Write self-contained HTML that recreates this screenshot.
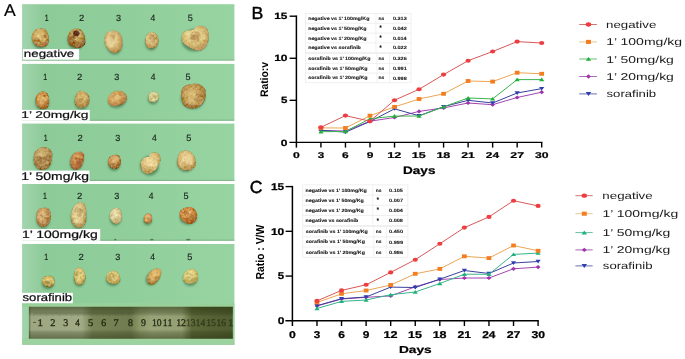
<!DOCTYPE html><html><head><meta charset="utf-8"><style>html,body{margin:0;padding:0;background:#fff;overflow:hidden;}svg{display:block} text{text-rendering:geometricPrecision}</style></head><body>
<svg width="685" height="359" viewBox="0 0 685 359">
<defs>
<filter id="bl" x="-30%" y="-30%" width="160%" height="160%"><feGaussianBlur stdDeviation="0.7"/></filter>
<filter id="bl2" x="-30%" y="-30%" width="160%" height="160%"><feGaussianBlur stdDeviation="1.2"/></filter>
<filter id="tex" x="-20%" y="-20%" width="140%" height="140%">
 <feTurbulence type="fractalNoise" baseFrequency="0.45" numOctaves="2" seed="7" result="n"/>
 <feColorMatrix in="n" type="matrix" values="0.33 0.33 0.33 0 0  0.33 0.33 0.33 0 0  0.33 0.33 0.33 0 0  0 0 0 0 1" result="g"/>
 <feComposite in="SourceGraphic" in2="g" operator="arithmetic" k1="0" k2="1" k3="0.55" k4="-0.27" result="c"/>
 <feComposite in="c" in2="SourceAlpha" operator="in" result="d"/>
 <feGaussianBlur in="d" stdDeviation="0.45"/>
</filter>
<filter id="gblur" x="0" y="0" width="100%" height="100%" filterUnits="userSpaceOnUse"><feGaussianBlur stdDeviation="0.35"/></filter>
<linearGradient id="ledge" x1="0" y1="0" x2="1" y2="0"><stop offset="0" stop-color="#fff" stop-opacity="0.2"/><stop offset="1" stop-color="#fff" stop-opacity="0"/></linearGradient>
<filter id="bl3" x="-10%" y="-10%" width="120%" height="120%"><feGaussianBlur stdDeviation="0.45"/></filter>
<linearGradient id="gstrip" x1="0" y1="0" x2="1" y2="0">
 <stop offset="0" stop-color="#8cca98"/><stop offset="0.5" stop-color="#90ce9c"/><stop offset="1" stop-color="#97d4a2"/>
</linearGradient>
<radialGradient id="tum" cx="0.42" cy="0.4" r="0.62">
 <stop offset="0" stop-color="#e6cf8c"/><stop offset="0.55" stop-color="#cfa760"/><stop offset="1" stop-color="#9a7038"/>
</radialGradient>
<radialGradient id="tumR" cx="0.45" cy="0.42" r="0.62">
 <stop offset="0" stop-color="#d9a868"/><stop offset="0.5" stop-color="#c08248"/><stop offset="1" stop-color="#8a5a30"/>
</radialGradient>
<radialGradient id="tumP" cx="0.42" cy="0.4" r="0.62">
 <stop offset="0" stop-color="#eee0a8"/><stop offset="0.6" stop-color="#d8c080"/><stop offset="1" stop-color="#a88a48"/>
</radialGradient>
<radialGradient id="tumO" cx="0.45" cy="0.4" r="0.62">
 <stop offset="0" stop-color="#e8b060"/><stop offset="0.55" stop-color="#d08c40"/><stop offset="1" stop-color="#986020"/>
</radialGradient>
<linearGradient id="ruler" x1="0" y1="0" x2="1" y2="0">
 <stop offset="0" stop-color="#6a744c"/><stop offset="0.012" stop-color="#9ca680"/><stop offset="0.26" stop-color="#a0aa84"/>
 <stop offset="0.31" stop-color="#788456"/><stop offset="0.5" stop-color="#707c50"/><stop offset="0.545" stop-color="#8c9868"/>
 <stop offset="0.6" stop-color="#98a478"/><stop offset="0.75" stop-color="#949f72"/><stop offset="0.8" stop-color="#5c6838"/><stop offset="1" stop-color="#505c30"/>
</linearGradient>
<linearGradient id="rulerv" x1="0" y1="0" x2="0" y2="1">
 <stop offset="0" stop-color="#1e2a08" stop-opacity="0.5"/><stop offset="0.18" stop-color="#1e2a08" stop-opacity="0.3"/><stop offset="0.3" stop-color="#000" stop-opacity="0"/>
 <stop offset="0.72" stop-color="#000" stop-opacity="0"/><stop offset="0.82" stop-color="#1e2a08" stop-opacity="0.25"/><stop offset="1" stop-color="#1e2a08" stop-opacity="0.45"/>
</linearGradient>
</defs>
<rect width="685" height="359" fill="#fff"/>
<g filter="url(#gblur)">
<text transform="translate(3.97,16.00) scale(1.038,1)" font-family='"Liberation Sans", sans-serif' font-size="17.01" font-weight="normal" fill="#000" stroke="#000" stroke-width="0.19" stroke-linejoin="round" >A</text>
<rect x="22.1" y="4.2" width="212.3" height="56.4" fill="url(#gstrip)"/>
<rect x="22.1" y="59.4" width="212.3" height="1.2" fill="#7aa87e" opacity="0.6"/>
<rect x="22.1" y="4.2" width="22" height="56.4" fill="url(#ledge)"/>
<rect x="22.1" y="63.9" width="212.3" height="56.9" fill="url(#gstrip)"/>
<rect x="22.1" y="119.6" width="212.3" height="1.2" fill="#7aa87e" opacity="0.6"/>
<rect x="22.1" y="63.9" width="22" height="56.9" fill="url(#ledge)"/>
<rect x="22.1" y="123.6" width="212.3" height="57.4" fill="url(#gstrip)"/>
<rect x="22.1" y="179.8" width="212.3" height="1.2" fill="#7aa87e" opacity="0.6"/>
<rect x="22.1" y="123.6" width="22" height="57.4" fill="url(#ledge)"/>
<rect x="22.1" y="184.0" width="212.3" height="56.8" fill="url(#gstrip)"/>
<rect x="22.1" y="239.6" width="212.3" height="1.2" fill="#7aa87e" opacity="0.6"/>
<rect x="22.1" y="184.0" width="22" height="56.8" fill="url(#ledge)"/>
<rect x="22.1" y="244.0" width="212.3" height="100.6" fill="url(#gstrip)"/>
<rect x="22.1" y="343.4" width="212.3" height="1.2" fill="#7aa87e" opacity="0.6"/>
<rect x="22.1" y="244.0" width="22" height="100.6" fill="url(#ledge)"/>
<rect x="22.1" y="303.2" width="212.3" height="3.8" fill="#98d09a"/>
<rect x="22.1" y="338.7" width="212.3" height="5.9" fill="#9cd29e"/>
<rect x="232.8" y="306.8" width="1.6" height="31.9" fill="#9ad09c"/>
<g filter="url(#bl3)"><rect x="28.9" y="306.8" width="203.9" height="31.9" fill="url(#ruler)"/>
<rect x="28.9" y="306.8" width="203.9" height="31.9" fill="url(#rulerv)"/></g>
<text transform="translate(37.15,325.80) scale(1.170,1)" font-family='"Liberation Serif", serif' font-size="10.20" font-weight="normal" fill="#141a06" stroke="#141a06" stroke-width="0.30" stroke-linejoin="round" opacity="0.85">1</text>
<text transform="translate(50.34,325.80) scale(1.027,1)" font-family='"Liberation Serif", serif' font-size="10.20" font-weight="normal" fill="#141a06" stroke="#141a06" stroke-width="0.34" stroke-linejoin="round" opacity="0.85">2</text>
<text transform="translate(63.21,325.80) scale(0.997,1)" font-family='"Liberation Serif", serif' font-size="10.20" font-weight="normal" fill="#141a06" stroke="#141a06" stroke-width="0.35" stroke-linejoin="round" opacity="0.85">3</text>
<text transform="translate(75.22,325.80) scale(0.886,1)" font-family='"Liberation Serif", serif' font-size="10.20" font-weight="normal" fill="#141a06" stroke="#141a06" stroke-width="0.40" stroke-linejoin="round" opacity="0.85">4</text>
<text transform="translate(87.99,325.80) scale(1.022,1)" font-family='"Liberation Serif", serif' font-size="10.20" font-weight="normal" fill="#141a06" stroke="#141a06" stroke-width="0.34" stroke-linejoin="round" opacity="0.85">5</text>
<text transform="translate(101.28,325.80) scale(0.964,1)" font-family='"Liberation Serif", serif' font-size="10.20" font-weight="normal" fill="#141a06" stroke="#141a06" stroke-width="0.36" stroke-linejoin="round" opacity="0.85">6</text>
<text transform="translate(113.62,325.80) scale(1.016,1)" font-family='"Liberation Serif", serif' font-size="10.20" font-weight="normal" fill="#141a06" stroke="#141a06" stroke-width="0.34" stroke-linejoin="round" opacity="0.85">7</text>
<text transform="translate(127.92,325.80) scale(0.972,1)" font-family='"Liberation Serif", serif' font-size="10.20" font-weight="normal" fill="#141a06" stroke="#141a06" stroke-width="0.36" stroke-linejoin="round" opacity="0.85">8</text>
<text transform="translate(141.08,325.80) scale(0.965,1)" font-family='"Liberation Serif", serif' font-size="10.20" font-weight="normal" fill="#141a06" stroke="#141a06" stroke-width="0.36" stroke-linejoin="round" opacity="0.85">9</text>
<text transform="translate(152.06,325.80) scale(0.942,1)" font-family='"Liberation Serif", serif' font-size="10.20" font-weight="normal" fill="#141a06" stroke="#141a06" stroke-width="0.37" stroke-linejoin="round" opacity="0.85">10</text>
<text transform="translate(162.83,325.80) scale(0.967,1)" font-family='"Liberation Serif", serif' font-size="10.20" font-weight="normal" fill="#141a06" stroke="#141a06" stroke-width="0.36" stroke-linejoin="round" opacity="0.85">11</text>
<text transform="translate(176.14,325.80) scale(0.961,1)" font-family='"Liberation Serif", serif' font-size="10.20" font-weight="normal" fill="#141a06" stroke="#141a06" stroke-width="0.36" stroke-linejoin="round" opacity="0.85">12</text>
<text transform="translate(185.95,325.80) scale(0.943,1)" font-family='"Liberation Serif", serif' font-size="10.20" font-weight="normal" fill="#141a06" stroke="#141a06" stroke-width="0.37" stroke-linejoin="round" opacity="0.55">13</text>
<text transform="translate(195.78,325.80) scale(0.919,1)" font-family='"Liberation Serif", serif' font-size="10.20" font-weight="normal" fill="#141a06" stroke="#141a06" stroke-width="0.38" stroke-linejoin="round" opacity="0.55">14</text>
<text transform="translate(206.15,325.80) scale(0.943,1)" font-family='"Liberation Serif", serif' font-size="10.20" font-weight="normal" fill="#141a06" stroke="#141a06" stroke-width="0.37" stroke-linejoin="round" opacity="0.55">15</text>
<text transform="translate(216.56,325.80) scale(0.933,1)" font-family='"Liberation Serif", serif' font-size="10.20" font-weight="normal" fill="#141a06" stroke="#141a06" stroke-width="0.37" stroke-linejoin="round" opacity="0.55">16</text>
<text transform="translate(227.85,325.80) scale(1.170,1)" font-family='"Liberation Serif", serif' font-size="10.20" font-weight="normal" fill="#141a06" stroke="#141a06" stroke-width="0.30" stroke-linejoin="round" opacity="0.55">1</text>
<path d="M33.2 322.4h2.6" stroke="#1c240a" stroke-width="0.9" opacity="0.7"/>
<path d="M34.00 312.4v4.5 M35.26 312.4v2.0 M36.52 312.4v2.0 M37.78 312.4v2.0 M39.04 312.4v2.0 M40.30 312.4v3.2 M41.56 312.4v2.0 M42.82 312.4v2.0 M44.08 312.4v2.0 M45.34 312.4v2.0 M46.60 312.4v4.5 M47.86 312.4v2.0 M49.12 312.4v2.0 M50.38 312.4v2.0 M51.64 312.4v2.0 M52.90 312.4v3.2 M54.16 312.4v2.0 M55.42 312.4v2.0 M56.68 312.4v2.0 M57.94 312.4v2.0 M59.20 312.4v4.5 M60.46 312.4v2.0 M61.72 312.4v2.0 M62.98 312.4v2.0 M64.24 312.4v2.0 M65.50 312.4v3.2 M66.76 312.4v2.0 M68.02 312.4v2.0 M69.28 312.4v2.0 M70.54 312.4v2.0 M71.80 312.4v4.5 M73.06 312.4v2.0 M74.32 312.4v2.0 M75.58 312.4v2.0 M76.84 312.4v2.0 M78.10 312.4v3.2 M79.36 312.4v2.0 M80.62 312.4v2.0 M81.88 312.4v2.0 M83.14 312.4v2.0 M84.40 312.4v4.5 M85.66 312.4v2.0 M86.92 312.4v2.0 M88.18 312.4v2.0 M89.44 312.4v2.0 M90.70 312.4v3.2 M91.96 312.4v2.0 M93.22 312.4v2.0 M94.48 312.4v2.0 M95.74 312.4v2.0 M97.00 312.4v4.5 M98.26 312.4v2.0 M99.52 312.4v2.0 M100.78 312.4v2.0 M102.04 312.4v2.0 M103.30 312.4v3.2 M104.56 312.4v2.0 M105.82 312.4v2.0 M107.08 312.4v2.0 M108.34 312.4v2.0 M109.60 312.4v4.5 M110.86 312.4v2.0 M112.12 312.4v2.0 M113.38 312.4v2.0 M114.64 312.4v2.0 M115.90 312.4v3.2 M117.16 312.4v2.0 M118.42 312.4v2.0 M119.68 312.4v2.0 M120.94 312.4v2.0 M122.20 312.4v4.5 M123.46 312.4v2.0 M124.72 312.4v2.0 M125.98 312.4v2.0 M127.24 312.4v2.0 M128.50 312.4v3.2 M129.76 312.4v2.0 M131.02 312.4v2.0 M132.28 312.4v2.0 M133.54 312.4v2.0" stroke="#2a3410" stroke-width="0.35" opacity="0.35"/>
<text transform="translate(44.77,20.60) scale(0.773,1)" font-family='"Liberation Sans", sans-serif' font-size="9.00" font-weight="normal" fill="#1a221a" stroke="#1a221a" stroke-width="0.19" stroke-linejoin="round" >1</text>
<text transform="translate(78.88,20.60) scale(1.049,1)" font-family='"Liberation Sans", sans-serif' font-size="9.00" font-weight="normal" fill="#1a221a" stroke="#1a221a" stroke-width="0.14" stroke-linejoin="round" >2</text>
<text transform="translate(115.90,20.60) scale(1.008,1)" font-family='"Liberation Sans", sans-serif' font-size="9.00" font-weight="normal" fill="#1a221a" stroke="#1a221a" stroke-width="0.15" stroke-linejoin="round" >3</text>
<text transform="translate(150.55,20.60) scale(0.948,1)" font-family='"Liberation Sans", sans-serif' font-size="9.00" font-weight="normal" fill="#1a221a" stroke="#1a221a" stroke-width="0.16" stroke-linejoin="round" >4</text>
<text transform="translate(187.69,20.60) scale(1.008,1)" font-family='"Liberation Sans", sans-serif' font-size="9.00" font-weight="normal" fill="#1a221a" stroke="#1a221a" stroke-width="0.15" stroke-linejoin="round" >5</text>
<text transform="translate(43.27,80.40) scale(0.773,1)" font-family='"Liberation Sans", sans-serif' font-size="9.00" font-weight="normal" fill="#1a221a" stroke="#1a221a" stroke-width="0.19" stroke-linejoin="round" >1</text>
<text transform="translate(77.08,80.40) scale(1.049,1)" font-family='"Liberation Sans", sans-serif' font-size="9.00" font-weight="normal" fill="#1a221a" stroke="#1a221a" stroke-width="0.14" stroke-linejoin="round" >2</text>
<text transform="translate(114.30,80.40) scale(1.008,1)" font-family='"Liberation Sans", sans-serif' font-size="9.00" font-weight="normal" fill="#1a221a" stroke="#1a221a" stroke-width="0.15" stroke-linejoin="round" >3</text>
<text transform="translate(150.75,80.40) scale(0.948,1)" font-family='"Liberation Sans", sans-serif' font-size="9.00" font-weight="normal" fill="#1a221a" stroke="#1a221a" stroke-width="0.16" stroke-linejoin="round" >4</text>
<text transform="translate(185.39,80.40) scale(1.008,1)" font-family='"Liberation Sans", sans-serif' font-size="9.00" font-weight="normal" fill="#1a221a" stroke="#1a221a" stroke-width="0.15" stroke-linejoin="round" >5</text>
<text transform="translate(43.87,140.70) scale(0.773,1)" font-family='"Liberation Sans", sans-serif' font-size="9.00" font-weight="normal" fill="#1a221a" stroke="#1a221a" stroke-width="0.19" stroke-linejoin="round" >1</text>
<text transform="translate(77.58,140.70) scale(1.049,1)" font-family='"Liberation Sans", sans-serif' font-size="9.00" font-weight="normal" fill="#1a221a" stroke="#1a221a" stroke-width="0.14" stroke-linejoin="round" >2</text>
<text transform="translate(115.20,140.70) scale(1.008,1)" font-family='"Liberation Sans", sans-serif' font-size="9.00" font-weight="normal" fill="#1a221a" stroke="#1a221a" stroke-width="0.15" stroke-linejoin="round" >3</text>
<text transform="translate(152.05,140.70) scale(0.948,1)" font-family='"Liberation Sans", sans-serif' font-size="9.00" font-weight="normal" fill="#1a221a" stroke="#1a221a" stroke-width="0.16" stroke-linejoin="round" >4</text>
<text transform="translate(186.29,140.70) scale(1.008,1)" font-family='"Liberation Sans", sans-serif' font-size="9.00" font-weight="normal" fill="#1a221a" stroke="#1a221a" stroke-width="0.15" stroke-linejoin="round" >5</text>
<text transform="translate(42.97,198.70) scale(0.773,1)" font-family='"Liberation Sans", sans-serif' font-size="9.00" font-weight="normal" fill="#1a221a" stroke="#1a221a" stroke-width="0.19" stroke-linejoin="round" >1</text>
<text transform="translate(77.08,198.70) scale(1.049,1)" font-family='"Liberation Sans", sans-serif' font-size="9.00" font-weight="normal" fill="#1a221a" stroke="#1a221a" stroke-width="0.14" stroke-linejoin="round" >2</text>
<text transform="translate(114.30,198.70) scale(1.008,1)" font-family='"Liberation Sans", sans-serif' font-size="9.00" font-weight="normal" fill="#1a221a" stroke="#1a221a" stroke-width="0.15" stroke-linejoin="round" >3</text>
<text transform="translate(148.75,198.70) scale(0.948,1)" font-family='"Liberation Sans", sans-serif' font-size="9.00" font-weight="normal" fill="#1a221a" stroke="#1a221a" stroke-width="0.16" stroke-linejoin="round" >4</text>
<text transform="translate(183.49,198.70) scale(1.008,1)" font-family='"Liberation Sans", sans-serif' font-size="9.00" font-weight="normal" fill="#1a221a" stroke="#1a221a" stroke-width="0.15" stroke-linejoin="round" >5</text>
<text transform="translate(44.17,260.30) scale(0.773,1)" font-family='"Liberation Sans", sans-serif' font-size="9.00" font-weight="normal" fill="#1a221a" stroke="#1a221a" stroke-width="0.19" stroke-linejoin="round" >1</text>
<text transform="translate(78.38,260.30) scale(1.049,1)" font-family='"Liberation Sans", sans-serif' font-size="9.00" font-weight="normal" fill="#1a221a" stroke="#1a221a" stroke-width="0.14" stroke-linejoin="round" >2</text>
<text transform="translate(115.20,260.30) scale(1.008,1)" font-family='"Liberation Sans", sans-serif' font-size="9.00" font-weight="normal" fill="#1a221a" stroke="#1a221a" stroke-width="0.15" stroke-linejoin="round" >3</text>
<text transform="translate(150.25,260.30) scale(0.948,1)" font-family='"Liberation Sans", sans-serif' font-size="9.00" font-weight="normal" fill="#1a221a" stroke="#1a221a" stroke-width="0.16" stroke-linejoin="round" >4</text>
<text transform="translate(187.19,260.30) scale(1.008,1)" font-family='"Liberation Sans", sans-serif' font-size="9.00" font-weight="normal" fill="#1a221a" stroke="#1a221a" stroke-width="0.15" stroke-linejoin="round" >5</text>
<radialGradient id="tg1" cx="0.45" cy="0.38" r="0.62"><stop offset="0" stop-color="#e0c880"/><stop offset="0.55" stop-color="#c9a45c"/><stop offset="1" stop-color="#a06a34"/></radialGradient>
<ellipse cx="40.1" cy="40.1" rx="7.9" ry="8.7" fill="#35643c" opacity="0.6" filter="url(#bl2)" transform="rotate(0 40.6 37.7)"/>
<g filter="url(#tex)" transform="rotate(0 40.6 37.7)">
<path d="M48.86 37.70C48.98 39.15 49.17 40.87 48.74 42.25C48.31 43.63 47.33 45.15 46.28 45.98C45.24 46.80 43.71 47.08 42.47 47.20C41.22 47.32 39.98 47.07 38.83 46.70C37.69 46.33 36.59 45.77 35.60 44.99C34.61 44.20 33.57 43.22 32.90 42.01C32.23 40.79 31.63 39.16 31.59 37.70C31.56 36.24 32.09 34.59 32.69 33.28C33.29 31.96 34.18 30.61 35.20 29.83C36.22 29.05 37.60 28.86 38.81 28.59C40.02 28.33 41.26 28.03 42.46 28.25C43.65 28.46 45.06 28.98 45.98 29.87C46.90 30.75 47.50 32.26 47.98 33.57C48.46 34.87 48.73 36.25 48.86 37.70Z" fill="url(#tg1)"/>
<ellipse cx="45.0" cy="35.9" rx="1.9" ry="1.5" fill="#a06a34" opacity="0.46"/>
<ellipse cx="43.2" cy="36.5" rx="2.3" ry="1.8" fill="#a06a34" opacity="0.31"/>
<ellipse cx="41.1" cy="41.2" rx="2.9" ry="2.3" fill="#a06a34" opacity="0.37"/>
<ellipse cx="41.2" cy="41.3" rx="2.5" ry="1.9" fill="#a06a34" opacity="0.55"/>
<ellipse cx="37.0" cy="36.2" rx="2.2" ry="1.7" fill="#e0c880" opacity="0.56"/>
<ellipse cx="42.5" cy="39.8" rx="3.4" ry="2.6" fill="#e0c880" opacity="0.58"/>
<ellipse cx="36.6" cy="40.1" rx="3.3" ry="2.6" fill="#a06a34" opacity="0.48"/>
</g>
<radialGradient id="tg2" cx="0.45" cy="0.38" r="0.62"><stop offset="0" stop-color="#dcc080"/><stop offset="0.55" stop-color="#b8944e"/><stop offset="1" stop-color="#8a5a2c"/></radialGradient>
<ellipse cx="76.0" cy="40.9" rx="8.5" ry="8.6" fill="#35643c" opacity="0.6" filter="url(#bl2)" transform="rotate(0 76.5 38.5)"/>
<g filter="url(#tex)" transform="rotate(0 76.5 38.5)">
<path d="M85.08 38.50C85.25 39.93 85.81 41.65 85.43 43.04C85.04 44.42 83.93 45.99 82.79 46.82C81.64 47.65 79.93 47.93 78.56 48.03C77.19 48.12 75.87 47.71 74.58 47.38C73.29 47.04 71.90 46.77 70.83 46.00C69.76 45.23 68.72 43.99 68.16 42.74C67.60 41.49 67.42 39.89 67.46 38.50C67.50 37.11 67.86 35.68 68.38 34.37C68.91 33.07 69.60 31.62 70.60 30.69C71.60 29.75 73.06 29.08 74.40 28.77C75.73 28.45 77.29 28.43 78.60 28.79C79.91 29.14 81.28 29.95 82.25 30.89C83.22 31.84 83.94 33.21 84.42 34.48C84.89 35.74 84.92 37.07 85.08 38.50Z" fill="url(#tg2)"/>
<ellipse cx="73.3" cy="37.5" rx="2.6" ry="2.0" fill="#8a5a2c" opacity="0.31"/>
<ellipse cx="73.8" cy="39.1" rx="2.9" ry="2.2" fill="#dcc080" opacity="0.46"/>
<ellipse cx="74.4" cy="37.6" rx="2.0" ry="1.6" fill="#8a5a2c" opacity="0.34"/>
<ellipse cx="71.1" cy="38.1" rx="3.6" ry="2.8" fill="#8a5a2c" opacity="0.57"/>
<ellipse cx="77.8" cy="34.0" rx="4.1" ry="3.2" fill="#dcc080" opacity="0.54"/>
<ellipse cx="73.3" cy="43.0" rx="4.3" ry="3.3" fill="#8a5a2c" opacity="0.53"/>
<ellipse cx="75.8" cy="35.0" rx="3.2" ry="2.5" fill="#8a5a2c" opacity="0.58"/>
<ellipse cx="76.3" cy="33.2" rx="3.2" ry="2.6" fill="#4a1a0c" opacity="0.85"/>
</g>
<radialGradient id="tg3" cx="0.45" cy="0.38" r="0.62"><stop offset="0" stop-color="#ecd8a0"/><stop offset="0.55" stop-color="#d4b674"/><stop offset="1" stop-color="#b08040"/></radialGradient>
<ellipse cx="113.3" cy="44.0" rx="8.1" ry="10.6" fill="#35643c" opacity="0.6" filter="url(#bl2)" transform="rotate(-12 113.8 41.6)"/>
<g filter="url(#tex)" transform="rotate(-12 113.8 41.6)">
<path d="M122.62 41.60C122.54 43.40 122.25 45.30 121.66 46.83C121.08 48.37 120.10 49.79 119.10 50.78C118.10 51.78 116.85 52.41 115.65 52.80C114.45 53.20 113.07 53.53 111.89 53.17C110.71 52.81 109.53 51.74 108.57 50.66C107.61 49.59 106.77 48.23 106.11 46.72C105.46 45.21 104.74 43.38 104.63 41.60C104.52 39.82 104.86 37.66 105.46 36.04C106.05 34.43 107.10 32.76 108.20 31.89C109.29 31.02 110.79 31.05 112.02 30.84C113.26 30.63 114.41 30.41 115.61 30.63C116.82 30.85 118.16 31.25 119.25 32.15C120.34 33.05 121.58 34.47 122.14 36.05C122.71 37.62 122.70 39.80 122.62 41.60Z" fill="url(#tg3)"/>
<ellipse cx="116.1" cy="38.1" rx="3.5" ry="2.7" fill="#ecd8a0" opacity="0.32"/>
<ellipse cx="114.0" cy="36.5" rx="2.5" ry="2.0" fill="#b08040" opacity="0.56"/>
<ellipse cx="109.7" cy="42.6" rx="3.8" ry="3.0" fill="#ecd8a0" opacity="0.58"/>
<ellipse cx="110.3" cy="45.4" rx="2.9" ry="2.2" fill="#ecd8a0" opacity="0.56"/>
<ellipse cx="115.1" cy="42.8" rx="2.4" ry="1.8" fill="#ecd8a0" opacity="0.43"/>
<ellipse cx="112.1" cy="39.1" rx="3.0" ry="2.3" fill="#b08040" opacity="0.41"/>
<ellipse cx="110.6" cy="39.0" rx="3.9" ry="3.0" fill="#ecd8a0" opacity="0.58"/>
</g>
<radialGradient id="tg4" cx="0.45" cy="0.38" r="0.62"><stop offset="0" stop-color="#eedca4"/><stop offset="0.55" stop-color="#d8bc7c"/><stop offset="1" stop-color="#b08848"/></radialGradient>
<ellipse cx="151.3" cy="42.7" rx="6.2" ry="7.7" fill="#35643c" opacity="0.6" filter="url(#bl2)" transform="rotate(0 151.8 40.3)"/>
<g filter="url(#tex)" transform="rotate(0 151.8 40.3)">
<path d="M158.58 40.30C158.60 41.60 158.47 43.09 158.03 44.22C157.59 45.35 156.74 46.40 155.93 47.07C155.12 47.75 154.11 48.05 153.19 48.27C152.27 48.49 151.34 48.55 150.39 48.41C149.43 48.27 148.25 48.13 147.46 47.42C146.66 46.72 145.99 45.39 145.61 44.20C145.23 43.01 145.11 41.57 145.15 40.30C145.20 39.03 145.46 37.70 145.88 36.57C146.30 35.44 146.92 34.26 147.67 33.52C148.41 32.78 149.45 32.33 150.37 32.13C151.29 31.93 152.27 32.09 153.19 32.32C154.12 32.56 155.13 32.86 155.92 33.54C156.71 34.23 157.48 35.32 157.92 36.44C158.37 37.57 158.57 39.00 158.58 40.30Z" fill="url(#tg4)"/>
<ellipse cx="153.0" cy="36.1" rx="1.8" ry="1.4" fill="#b08848" opacity="0.49"/>
<ellipse cx="151.4" cy="35.7" rx="2.9" ry="2.3" fill="#b08848" opacity="0.48"/>
<ellipse cx="150.6" cy="37.3" rx="1.7" ry="1.3" fill="#b08848" opacity="0.33"/>
<ellipse cx="155.1" cy="38.4" rx="2.4" ry="1.8" fill="#b08848" opacity="0.57"/>
<ellipse cx="148.5" cy="38.2" rx="2.9" ry="2.2" fill="#eedca4" opacity="0.42"/>
<ellipse cx="149.9" cy="38.5" rx="1.7" ry="1.3" fill="#b08848" opacity="0.54"/>
<ellipse cx="152.4" cy="40.5" rx="2.5" ry="1.9" fill="#b08848" opacity="0.46"/>
</g>
<radialGradient id="tg5" cx="0.45" cy="0.38" r="0.62"><stop offset="0" stop-color="#eedc9c"/><stop offset="0.55" stop-color="#d8c078"/><stop offset="1" stop-color="#b89058"/></radialGradient>
<ellipse cx="194.5" cy="40.4" rx="12.8" ry="11.2" fill="#35643c" opacity="0.6" filter="url(#bl2)" transform="rotate(0 195.0 38.0)"/>
<g filter="url(#tex)" transform="rotate(0 195.0 38.0)">
<path d="M181.5 37 C182 32 185 30 189 30.5 C191 31 193 30 195 28 C197 25 202 24.5 205.5 27 C209 30 209.5 36 208.5 41 C207.5 46 204 50 199.5 51 C195 51 191 48.5 187 46 C183 44 181 41 181.5 37 Z" fill="url(#tg5)"/>
<ellipse cx="190.1" cy="33.6" rx="5.4" ry="4.2" fill="#eedc9c" opacity="0.52"/>
<ellipse cx="195.9" cy="37.6" rx="4.3" ry="3.3" fill="#eedc9c" opacity="0.49"/>
<ellipse cx="196.8" cy="36.8" rx="4.3" ry="3.3" fill="#b89058" opacity="0.46"/>
<ellipse cx="194.5" cy="37.8" rx="3.5" ry="2.7" fill="#b89058" opacity="0.57"/>
<ellipse cx="195.3" cy="35.5" rx="5.4" ry="4.2" fill="#b89058" opacity="0.49"/>
<ellipse cx="195.1" cy="38.1" rx="5.6" ry="4.3" fill="#b89058" opacity="0.36"/>
<ellipse cx="202.4" cy="37.2" rx="3.7" ry="2.9" fill="#eedc9c" opacity="0.46"/>
</g>
<radialGradient id="tg6" cx="0.45" cy="0.38" r="0.62"><stop offset="0" stop-color="#e0b870"/><stop offset="0.55" stop-color="#c8904c"/><stop offset="1" stop-color="#a06430"/></radialGradient>
<ellipse cx="42.1" cy="102.7" rx="6.9" ry="7.7" fill="#35643c" opacity="0.6" filter="url(#bl2)" transform="rotate(0 42.6 100.3)"/>
<g filter="url(#tex)" transform="rotate(0 42.6 100.3)">
<path d="M49.23 100.30C49.27 101.49 49.33 102.72 49.06 103.95C48.78 105.17 48.38 106.78 47.59 107.64C46.80 108.49 45.41 108.87 44.31 109.06C43.20 109.26 41.99 109.14 40.95 108.79C39.91 108.44 38.90 107.77 38.05 106.98C37.21 106.20 36.30 105.21 35.88 104.10C35.45 102.98 35.50 101.56 35.51 100.30C35.52 99.04 35.54 97.69 35.95 96.54C36.35 95.40 37.09 94.23 37.92 93.42C38.75 92.61 39.85 92.03 40.92 91.69C41.99 91.35 43.25 91.14 44.34 91.39C45.42 91.64 46.69 92.30 47.43 93.20C48.18 94.10 48.51 95.61 48.81 96.79C49.11 97.98 49.19 99.11 49.23 100.30Z" fill="url(#tg6)"/>
<ellipse cx="39.0" cy="98.8" rx="2.1" ry="1.6" fill="#e0b870" opacity="0.51"/>
<ellipse cx="43.9" cy="98.1" rx="1.8" ry="1.4" fill="#e0b870" opacity="0.54"/>
<ellipse cx="41.6" cy="100.7" rx="2.0" ry="1.5" fill="#e0b870" opacity="0.39"/>
<ellipse cx="45.6" cy="99.2" rx="2.0" ry="1.5" fill="#e0b870" opacity="0.41"/>
<ellipse cx="46.3" cy="98.3" rx="2.6" ry="2.0" fill="#e0b870" opacity="0.51"/>
<ellipse cx="44.1" cy="95.6" rx="1.6" ry="1.3" fill="#a06430" opacity="0.48"/>
<ellipse cx="41.5" cy="103.8" rx="1.8" ry="1.4" fill="#e0b870" opacity="0.46"/>
</g>
<radialGradient id="tg7" cx="0.45" cy="0.38" r="0.62"><stop offset="0" stop-color="#e0c47c"/><stop offset="0.55" stop-color="#c8a460"/><stop offset="1" stop-color="#a07838"/></radialGradient>
<ellipse cx="81.5" cy="102.0" rx="6.9" ry="8.0" fill="#35643c" opacity="0.6" filter="url(#bl2)" transform="rotate(0 82.0 99.6)"/>
<g filter="url(#tex)" transform="rotate(0 82.0 99.6)">
<path d="M89.55 99.60C89.56 100.96 89.47 102.55 88.95 103.69C88.43 104.82 87.37 105.79 86.45 106.41C85.54 107.04 84.47 107.15 83.47 107.44C82.46 107.72 81.45 108.19 80.41 108.11C79.37 108.02 78.13 107.64 77.22 106.91C76.32 106.18 75.37 104.95 74.98 103.73C74.58 102.51 74.76 100.92 74.86 99.60C74.96 98.28 75.15 97.00 75.57 95.82C75.99 94.64 76.58 93.36 77.38 92.52C78.17 91.69 79.33 91.00 80.35 90.80C81.38 90.60 82.53 90.99 83.55 91.31C84.57 91.63 85.61 92.00 86.50 92.71C87.40 93.41 88.41 94.39 88.91 95.54C89.42 96.68 89.55 98.24 89.55 99.60Z" fill="url(#tg7)"/>
<ellipse cx="85.0" cy="98.4" rx="2.4" ry="1.8" fill="#e0c47c" opacity="0.31"/>
<ellipse cx="83.3" cy="97.6" rx="1.9" ry="1.4" fill="#a07838" opacity="0.39"/>
<ellipse cx="82.6" cy="97.9" rx="2.7" ry="2.1" fill="#e0c47c" opacity="0.41"/>
<ellipse cx="81.2" cy="99.3" rx="1.7" ry="1.3" fill="#a07838" opacity="0.50"/>
<ellipse cx="80.0" cy="100.8" rx="2.7" ry="2.1" fill="#a07838" opacity="0.39"/>
<ellipse cx="83.0" cy="95.5" rx="2.1" ry="1.6" fill="#e0c47c" opacity="0.46"/>
<ellipse cx="84.5" cy="96.5" rx="2.1" ry="1.7" fill="#e0c47c" opacity="0.34"/>
</g>
<radialGradient id="tg8" cx="0.45" cy="0.38" r="0.62"><stop offset="0" stop-color="#e8c480"/><stop offset="0.55" stop-color="#d0a05c"/><stop offset="1" stop-color="#a87038"/></radialGradient>
<ellipse cx="116.7" cy="100.9" rx="9.0" ry="6.9" fill="#35643c" opacity="0.6" filter="url(#bl2)" transform="rotate(-20 117.2 98.5)"/>
<g filter="url(#tex)" transform="rotate(-20 117.2 98.5)">
<path d="M127.12 98.50C127.24 99.63 126.95 101.00 126.32 102.04C125.70 103.08 124.55 104.11 123.38 104.74C122.20 105.37 120.63 105.71 119.27 105.82C117.92 105.92 116.62 105.55 115.25 105.37C113.88 105.18 112.27 105.25 111.05 104.71C109.84 104.16 108.58 103.12 107.94 102.09C107.31 101.05 107.17 99.67 107.25 98.50C107.33 97.33 107.75 96.09 108.42 95.10C109.10 94.11 110.21 93.25 111.32 92.56C112.42 91.86 113.73 91.16 115.05 90.93C116.38 90.70 117.92 90.94 119.27 91.21C120.61 91.47 122.06 91.85 123.12 92.53C124.18 93.20 124.96 94.24 125.62 95.23C126.29 96.23 127.01 97.37 127.12 98.50Z" fill="url(#tg8)"/>
<ellipse cx="116.9" cy="101.2" rx="3.5" ry="2.7" fill="#a87038" opacity="0.33"/>
<ellipse cx="116.9" cy="103.1" rx="1.8" ry="1.4" fill="#e8c480" opacity="0.41"/>
<ellipse cx="115.6" cy="96.5" rx="3.1" ry="2.4" fill="#a87038" opacity="0.49"/>
<ellipse cx="120.6" cy="96.6" rx="2.0" ry="1.5" fill="#a87038" opacity="0.58"/>
<ellipse cx="115.1" cy="98.6" rx="3.6" ry="2.8" fill="#e8c480" opacity="0.52"/>
<ellipse cx="119.2" cy="97.0" rx="2.4" ry="1.9" fill="#e8c480" opacity="0.34"/>
<ellipse cx="117.3" cy="97.4" rx="3.1" ry="2.4" fill="#e8c480" opacity="0.58"/>
</g>
<radialGradient id="tg9" cx="0.45" cy="0.38" r="0.62"><stop offset="0" stop-color="#ece4b0"/><stop offset="0.55" stop-color="#d4cc8c"/><stop offset="1" stop-color="#aaa060"/></radialGradient>
<ellipse cx="153.0" cy="99.4" rx="5.2" ry="5.0" fill="#35643c" opacity="0.6" filter="url(#bl2)" transform="rotate(0 153.5 97.0)"/>
<g filter="url(#tex)" transform="rotate(0 153.5 97.0)">
<path d="M159.30 97.00C159.20 97.81 158.64 98.59 158.22 99.27C157.80 99.96 157.37 100.60 156.79 101.13C156.21 101.65 155.49 102.18 154.73 102.41C153.98 102.64 153.07 102.64 152.24 102.52C151.41 102.40 150.40 102.20 149.75 101.70C149.10 101.19 148.59 100.27 148.34 99.49C148.08 98.70 148.20 97.82 148.23 97.00C148.25 96.18 148.20 95.33 148.49 94.59C148.77 93.84 149.30 93.00 149.93 92.53C150.57 92.06 151.51 91.91 152.30 91.76C153.10 91.62 153.92 91.53 154.72 91.66C155.52 91.78 156.39 92.05 157.08 92.51C157.77 92.97 158.48 93.67 158.85 94.42C159.22 95.17 159.41 96.19 159.30 97.00Z" fill="url(#tg9)"/>
<ellipse cx="155.2" cy="98.4" rx="2.6" ry="2.0" fill="#ece4b0" opacity="0.53"/>
<ellipse cx="151.4" cy="98.8" rx="1.4" ry="1.0" fill="#aaa060" opacity="0.50"/>
<ellipse cx="153.2" cy="95.1" rx="1.3" ry="1.0" fill="#aaa060" opacity="0.36"/>
<ellipse cx="152.9" cy="99.9" rx="1.5" ry="1.2" fill="#ece4b0" opacity="0.56"/>
<ellipse cx="155.2" cy="97.6" rx="1.9" ry="1.5" fill="#aaa060" opacity="0.43"/>
<ellipse cx="154.2" cy="96.5" rx="2.1" ry="1.6" fill="#aaa060" opacity="0.47"/>
<ellipse cx="154.5" cy="96.2" rx="1.2" ry="0.9" fill="#aaa060" opacity="0.46"/>
</g>
<radialGradient id="tg10" cx="0.45" cy="0.38" r="0.62"><stop offset="0" stop-color="#dcc07c"/><stop offset="0.55" stop-color="#bc9452"/><stop offset="1" stop-color="#9a6c34"/></radialGradient>
<ellipse cx="192.8" cy="98.2" rx="12.1" ry="11.0" fill="#35643c" opacity="0.6" filter="url(#bl2)" transform="rotate(0 193.3 95.8)"/>
<g filter="url(#tex)" transform="rotate(0 193.3 95.8)">
<path d="M205.75 95.80C205.56 97.61 205.21 99.39 204.45 100.98C203.68 102.56 202.54 104.12 201.17 105.32C199.80 106.51 198.03 107.63 196.22 108.14C194.41 108.66 192.22 108.77 190.31 108.44C188.40 108.10 186.15 107.38 184.74 106.16C183.33 104.94 182.45 102.84 181.86 101.11C181.27 99.39 181.27 97.61 181.20 95.80C181.13 93.99 180.80 91.97 181.42 90.28C182.04 88.59 183.38 86.65 184.90 85.64C186.42 84.63 188.68 84.59 190.56 84.23C192.45 83.88 194.32 83.32 196.21 83.51C198.10 83.71 200.34 84.30 201.90 85.40C203.46 86.49 204.94 88.36 205.58 90.10C206.22 91.83 205.94 93.99 205.75 95.80Z" fill="url(#tg10)"/>
<ellipse cx="192.0" cy="101.5" rx="4.2" ry="3.2" fill="#dcc07c" opacity="0.50"/>
<ellipse cx="197.7" cy="100.5" rx="5.9" ry="4.5" fill="#dcc07c" opacity="0.48"/>
<ellipse cx="193.6" cy="95.9" rx="3.1" ry="2.4" fill="#dcc07c" opacity="0.39"/>
<ellipse cx="188.5" cy="100.9" rx="3.7" ry="2.9" fill="#dcc07c" opacity="0.43"/>
<ellipse cx="198.4" cy="97.9" rx="5.4" ry="4.2" fill="#9a6c34" opacity="0.37"/>
<ellipse cx="192.4" cy="96.3" rx="4.3" ry="3.3" fill="#dcc07c" opacity="0.50"/>
<ellipse cx="186.5" cy="94.4" rx="3.2" ry="2.5" fill="#dcc07c" opacity="0.41"/>
</g>
<radialGradient id="tg11" cx="0.45" cy="0.38" r="0.62"><stop offset="0" stop-color="#dcc488"/><stop offset="0.55" stop-color="#bc9a5c"/><stop offset="1" stop-color="#946a38"/></radialGradient>
<ellipse cx="42.4" cy="160.7" rx="8.8" ry="10.3" fill="#35643c" opacity="0.6" filter="url(#bl2)" transform="rotate(0 42.9 158.3)"/>
<g filter="url(#tex)" transform="rotate(0 42.9 158.3)">
<path d="M52.18 158.30C51.96 160.04 51.58 161.63 51.00 163.12C50.42 164.62 49.68 166.20 48.68 167.26C47.67 168.32 46.28 169.04 44.96 169.48C43.64 169.91 42.12 170.18 40.76 169.90C39.39 169.62 37.89 168.85 36.78 167.80C35.66 166.74 34.61 165.14 34.07 163.56C33.54 161.97 33.54 160.03 33.58 158.30C33.61 156.57 33.69 154.64 34.30 153.18C34.92 151.72 36.16 150.50 37.26 149.55C38.36 148.60 39.62 147.91 40.90 147.49C42.19 147.06 43.62 146.79 44.99 146.98C46.36 147.18 47.91 147.68 49.14 148.63C50.36 149.58 51.81 151.08 52.32 152.69C52.82 154.30 52.40 156.56 52.18 158.30Z" fill="url(#tg11)"/>
<ellipse cx="47.1" cy="157.1" rx="3.6" ry="2.7" fill="#946a38" opacity="0.30"/>
<ellipse cx="41.9" cy="158.1" rx="2.5" ry="1.9" fill="#946a38" opacity="0.31"/>
<ellipse cx="39.6" cy="159.2" rx="4.1" ry="3.2" fill="#dcc488" opacity="0.49"/>
<ellipse cx="38.5" cy="158.3" rx="3.2" ry="2.4" fill="#946a38" opacity="0.60"/>
<ellipse cx="47.9" cy="158.1" rx="3.8" ry="2.9" fill="#946a38" opacity="0.37"/>
<ellipse cx="42.6" cy="159.7" rx="3.9" ry="3.0" fill="#946a38" opacity="0.55"/>
<ellipse cx="38.8" cy="162.7" rx="4.1" ry="3.2" fill="#946a38" opacity="0.36"/>
</g>
<radialGradient id="tg12" cx="0.45" cy="0.38" r="0.62"><stop offset="0" stop-color="#e8c078"/><stop offset="0.55" stop-color="#c88448"/><stop offset="1" stop-color="#a05428"/></radialGradient>
<ellipse cx="76.7" cy="162.9" rx="6.2" ry="8.4" fill="#35643c" opacity="0.6" filter="url(#bl2)" transform="rotate(12 77.2 160.5)"/>
<g filter="url(#tex)" transform="rotate(12 77.2 160.5)">
<path d="M83.42 160.50C83.32 161.85 83.08 163.10 82.72 164.33C82.36 165.55 81.95 166.96 81.27 167.85C80.60 168.74 79.58 169.32 78.66 169.67C77.73 170.02 76.66 170.19 75.70 169.94C74.75 169.70 73.71 169.06 72.93 168.20C72.15 167.34 71.42 166.07 71.01 164.79C70.60 163.50 70.42 161.91 70.45 160.50C70.47 159.09 70.67 157.48 71.15 156.31C71.63 155.15 72.55 154.26 73.33 153.52C74.11 152.78 74.94 152.22 75.83 151.85C76.72 151.49 77.66 151.28 78.65 151.33C79.65 151.39 81.03 151.37 81.81 152.18C82.59 153.00 83.09 154.85 83.35 156.24C83.62 157.62 83.53 159.15 83.42 160.50Z" fill="url(#tg12)"/>
<ellipse cx="77.5" cy="159.4" rx="2.6" ry="2.0" fill="#a05428" opacity="0.42"/>
<ellipse cx="77.4" cy="160.1" rx="1.5" ry="1.2" fill="#e8c078" opacity="0.45"/>
<ellipse cx="80.5" cy="163.5" rx="3.1" ry="2.4" fill="#a05428" opacity="0.43"/>
<ellipse cx="78.5" cy="162.6" rx="2.5" ry="1.9" fill="#a05428" opacity="0.51"/>
<ellipse cx="78.5" cy="161.1" rx="2.8" ry="2.2" fill="#a05428" opacity="0.43"/>
<ellipse cx="75.1" cy="158.5" rx="2.1" ry="1.6" fill="#a05428" opacity="0.52"/>
<ellipse cx="81.0" cy="159.4" rx="2.6" ry="2.0" fill="#a05428" opacity="0.41"/>
</g>
<radialGradient id="tg13" cx="0.45" cy="0.38" r="0.62"><stop offset="0" stop-color="#e0b878"/><stop offset="0.55" stop-color="#c08c50"/><stop offset="1" stop-color="#905c2c"/></radialGradient>
<ellipse cx="114.1" cy="164.2" rx="6.0" ry="6.7" fill="#35643c" opacity="0.6" filter="url(#bl2)" transform="rotate(0 114.6 161.8)"/>
<g filter="url(#tex)" transform="rotate(0 114.6 161.8)">
<path d="M121.14 161.80C121.12 162.89 120.80 164.05 120.39 165.05C119.98 166.05 119.43 167.14 118.69 167.78C117.96 168.42 116.89 168.74 115.99 168.88C115.08 169.03 114.16 168.85 113.26 168.64C112.36 168.43 111.37 168.22 110.61 167.63C109.85 167.04 109.20 166.07 108.72 165.10C108.25 164.13 107.80 162.91 107.77 161.80C107.74 160.69 108.07 159.36 108.56 158.41C109.04 157.46 109.89 156.63 110.68 156.07C111.47 155.51 112.39 155.30 113.28 155.05C114.17 154.80 115.09 154.49 116.01 154.58C116.94 154.67 118.10 154.94 118.85 155.59C119.60 156.24 120.13 157.45 120.51 158.48C120.89 159.52 121.16 160.71 121.14 161.80Z" fill="url(#tg13)"/>
<ellipse cx="114.4" cy="163.2" rx="2.9" ry="2.2" fill="#e0b878" opacity="0.54"/>
<ellipse cx="116.1" cy="158.5" rx="3.0" ry="2.3" fill="#e0b878" opacity="0.38"/>
<ellipse cx="116.1" cy="159.5" rx="2.7" ry="2.1" fill="#e0b878" opacity="0.43"/>
<ellipse cx="113.1" cy="163.8" rx="1.9" ry="1.5" fill="#905c2c" opacity="0.55"/>
<ellipse cx="115.7" cy="157.6" rx="2.6" ry="2.0" fill="#e0b878" opacity="0.52"/>
<ellipse cx="116.6" cy="164.4" rx="2.1" ry="1.7" fill="#905c2c" opacity="0.36"/>
<ellipse cx="112.9" cy="161.5" rx="2.2" ry="1.7" fill="#e0b878" opacity="0.42"/>
</g>
<radialGradient id="tg14" cx="0.45" cy="0.38" r="0.62"><stop offset="0" stop-color="#f0dca0"/><stop offset="0.55" stop-color="#dcc07c"/><stop offset="1" stop-color="#b89450"/></radialGradient>
<ellipse cx="149.5" cy="165.9" rx="9.5" ry="9.8" fill="#35643c" opacity="0.6" filter="url(#bl2)" transform="rotate(0 150.0 163.5)"/>
<g filter="url(#tex)" transform="rotate(0 150.0 163.5)">
<path d="M141 167 C139 161 144 156 149 157 C149 153 154 151 158 153 C162 156 161 162 158 166 C156 171 151 174 147 174 C143 173 141 170 141 167 Z" fill="url(#tg14)"/>
<ellipse cx="153.8" cy="166.8" rx="3.9" ry="3.0" fill="#f0dca0" opacity="0.38"/>
<ellipse cx="149.8" cy="168.9" rx="3.9" ry="3.0" fill="#b89450" opacity="0.51"/>
<ellipse cx="145.9" cy="166.9" rx="2.5" ry="1.9" fill="#b89450" opacity="0.57"/>
<ellipse cx="148.3" cy="165.8" rx="4.3" ry="3.3" fill="#f0dca0" opacity="0.34"/>
<ellipse cx="145.5" cy="161.9" rx="2.6" ry="2.0" fill="#f0dca0" opacity="0.34"/>
<ellipse cx="149.3" cy="164.8" rx="2.7" ry="2.1" fill="#f0dca0" opacity="0.42"/>
<ellipse cx="153.7" cy="163.3" rx="3.8" ry="2.9" fill="#f0dca0" opacity="0.51"/>
</g>
<radialGradient id="tg15" cx="0.45" cy="0.38" r="0.62"><stop offset="0" stop-color="#eed8a0"/><stop offset="0.55" stop-color="#d8b874"/><stop offset="1" stop-color="#b08a48"/></radialGradient>
<ellipse cx="185.9" cy="163.1" rx="8.9" ry="9.0" fill="#35643c" opacity="0.6" filter="url(#bl2)" transform="rotate(0 186.4 160.7)"/>
<g filter="url(#tex)" transform="rotate(0 186.4 160.7)">
<path d="M195.51 160.70C195.71 162.21 196.29 164.15 195.81 165.54C195.32 166.93 193.83 168.17 192.62 169.04C191.41 169.90 189.92 170.52 188.54 170.73C187.16 170.94 185.72 170.62 184.35 170.30C182.99 169.98 181.49 169.65 180.35 168.81C179.22 167.97 178.06 166.61 177.55 165.26C177.04 163.91 177.24 162.19 177.30 160.70C177.36 159.21 177.44 157.73 177.91 156.33C178.37 154.92 179.05 153.24 180.10 152.26C181.15 151.27 182.81 150.67 184.21 150.44C185.61 150.20 187.20 150.37 188.51 150.83C189.81 151.28 191.01 152.22 192.02 153.16C193.04 154.10 194.02 155.22 194.60 156.48C195.18 157.73 195.31 159.19 195.51 160.70Z" fill="url(#tg15)"/>
<ellipse cx="189.9" cy="157.0" rx="2.6" ry="2.0" fill="#eed8a0" opacity="0.45"/>
<ellipse cx="186.8" cy="164.4" rx="3.1" ry="2.4" fill="#b08a48" opacity="0.47"/>
<ellipse cx="183.8" cy="164.0" rx="4.4" ry="3.4" fill="#eed8a0" opacity="0.42"/>
<ellipse cx="190.1" cy="156.2" rx="3.3" ry="2.5" fill="#eed8a0" opacity="0.31"/>
<ellipse cx="187.6" cy="162.3" rx="4.4" ry="3.4" fill="#eed8a0" opacity="0.52"/>
<ellipse cx="185.6" cy="164.5" rx="4.2" ry="3.3" fill="#b08a48" opacity="0.33"/>
<ellipse cx="189.8" cy="161.8" rx="4.1" ry="3.2" fill="#eed8a0" opacity="0.42"/>
</g>
<radialGradient id="tg16" cx="0.45" cy="0.38" r="0.62"><stop offset="0" stop-color="#e4c488"/><stop offset="0.55" stop-color="#c89c60"/><stop offset="1" stop-color="#a07040"/></radialGradient>
<ellipse cx="43.0" cy="219.4" rx="6.9" ry="9.0" fill="#35643c" opacity="0.6" filter="url(#bl2)" transform="rotate(0 43.5 217.0)"/>
<g filter="url(#tex)" transform="rotate(0 43.5 217.0)">
<path d="M50.99 217.00C50.88 218.50 50.44 219.99 49.94 221.28C49.44 222.57 48.80 223.88 47.99 224.76C47.18 225.64 46.11 226.17 45.08 226.55C44.06 226.93 42.87 227.31 41.84 227.04C40.81 226.78 39.74 225.89 38.90 224.96C38.07 224.02 37.29 222.76 36.83 221.43C36.36 220.11 36.13 218.49 36.12 217.00C36.10 215.51 36.27 213.85 36.72 212.50C37.17 211.14 37.93 209.66 38.81 208.89C39.69 208.13 40.95 208.14 41.99 207.90C43.04 207.66 44.00 207.37 45.08 207.46C46.16 207.55 47.53 207.63 48.45 208.43C49.38 209.24 50.20 210.84 50.62 212.27C51.04 213.70 51.11 215.50 50.99 217.00Z" fill="url(#tg16)"/>
<ellipse cx="46.5" cy="213.7" rx="2.9" ry="2.2" fill="#a07040" opacity="0.44"/>
<ellipse cx="42.0" cy="214.9" rx="2.0" ry="1.6" fill="#a07040" opacity="0.38"/>
<ellipse cx="44.0" cy="213.9" rx="2.4" ry="1.9" fill="#e4c488" opacity="0.58"/>
<ellipse cx="43.3" cy="217.9" rx="3.5" ry="2.7" fill="#e4c488" opacity="0.54"/>
<ellipse cx="41.7" cy="216.6" rx="1.9" ry="1.5" fill="#a07040" opacity="0.44"/>
<ellipse cx="46.7" cy="218.9" rx="3.0" ry="2.3" fill="#a07040" opacity="0.55"/>
<ellipse cx="39.4" cy="217.3" rx="2.5" ry="1.9" fill="#e4c488" opacity="0.44"/>
</g>
<radialGradient id="tg17" cx="0.45" cy="0.38" r="0.62"><stop offset="0" stop-color="#f0e0a8"/><stop offset="0.55" stop-color="#d6be80"/><stop offset="1" stop-color="#ac8c50"/></radialGradient>
<ellipse cx="78.5" cy="217.7" rx="7.5" ry="11.4" fill="#35643c" opacity="0.6" filter="url(#bl2)" transform="rotate(0 79.0 215.3)"/>
<g filter="url(#tex)" transform="rotate(0 79.0 215.3)">
<path d="M86.50 215.30C86.48 217.17 86.57 219.13 86.18 220.86C85.79 222.59 85.05 224.50 84.15 225.67C83.25 226.85 81.93 227.60 80.79 227.89C79.64 228.19 78.42 227.84 77.28 227.44C76.13 227.05 74.92 226.55 73.93 225.51C72.95 224.47 71.92 222.89 71.39 221.19C70.87 219.49 70.66 217.17 70.78 215.30C70.89 213.43 71.51 211.54 72.09 209.95C72.68 208.36 73.40 206.88 74.27 205.76C75.13 204.64 76.18 203.87 77.29 203.22C78.39 202.58 79.69 201.75 80.90 201.89C82.12 202.03 83.67 202.77 84.58 204.06C85.48 205.35 86.01 207.75 86.34 209.62C86.66 211.49 86.53 213.43 86.50 215.30Z" fill="url(#tg17)"/>
<ellipse cx="79.9" cy="215.3" rx="3.4" ry="2.7" fill="#f0e0a8" opacity="0.35"/>
<ellipse cx="78.1" cy="210.1" rx="3.7" ry="2.9" fill="#ac8c50" opacity="0.46"/>
<ellipse cx="81.7" cy="211.4" rx="2.4" ry="1.8" fill="#ac8c50" opacity="0.58"/>
<ellipse cx="74.3" cy="216.5" rx="2.0" ry="1.6" fill="#f0e0a8" opacity="0.54"/>
<ellipse cx="79.4" cy="215.0" rx="2.5" ry="1.9" fill="#ac8c50" opacity="0.53"/>
<ellipse cx="76.2" cy="221.2" rx="2.5" ry="1.9" fill="#f0e0a8" opacity="0.56"/>
<ellipse cx="79.2" cy="220.6" rx="3.7" ry="2.9" fill="#f0e0a8" opacity="0.41"/>
</g>
<radialGradient id="tg18" cx="0.45" cy="0.38" r="0.62"><stop offset="0" stop-color="#f0e4b8"/><stop offset="0.55" stop-color="#dccc94"/><stop offset="1" stop-color="#b8a46c"/></radialGradient>
<ellipse cx="115.5" cy="218.4" rx="5.7" ry="7.3" fill="#35643c" opacity="0.6" filter="url(#bl2)" transform="rotate(0 116.0 216.0)"/>
<g filter="url(#tex)" transform="rotate(0 116.0 216.0)">
<path d="M121.95 216.00C121.95 217.22 121.94 218.54 121.62 219.67C121.29 220.80 120.70 222.06 119.99 222.79C119.28 223.52 118.23 223.92 117.36 224.06C116.48 224.20 115.54 223.96 114.72 223.64C113.89 223.31 113.10 222.80 112.40 222.13C111.71 221.45 111.02 220.59 110.54 219.57C110.06 218.55 109.59 217.23 109.53 216.00C109.47 214.77 109.73 213.28 110.16 212.18C110.59 211.08 111.36 210.03 112.12 209.39C112.88 208.75 113.84 208.54 114.71 208.33C115.58 208.12 116.44 207.98 117.32 208.12C118.21 208.26 119.30 208.46 120.01 209.16C120.72 209.87 121.26 211.21 121.58 212.35C121.91 213.49 121.94 214.78 121.95 216.00Z" fill="url(#tg18)"/>
<ellipse cx="116.2" cy="220.1" rx="2.2" ry="1.7" fill="#b8a46c" opacity="0.50"/>
<ellipse cx="118.3" cy="212.9" rx="1.7" ry="1.3" fill="#b8a46c" opacity="0.30"/>
<ellipse cx="117.4" cy="215.7" rx="2.5" ry="1.9" fill="#f0e4b8" opacity="0.48"/>
<ellipse cx="112.8" cy="215.3" rx="2.3" ry="1.8" fill="#b8a46c" opacity="0.33"/>
<ellipse cx="112.6" cy="216.7" rx="1.6" ry="1.2" fill="#f0e4b8" opacity="0.49"/>
<ellipse cx="116.7" cy="217.6" rx="2.4" ry="1.9" fill="#b8a46c" opacity="0.42"/>
<ellipse cx="115.1" cy="216.2" rx="2.4" ry="1.9" fill="#f0e4b8" opacity="0.46"/>
</g>
<radialGradient id="tg19" cx="0.45" cy="0.38" r="0.62"><stop offset="0" stop-color="#e8c080"/><stop offset="0.55" stop-color="#d09a5c"/><stop offset="1" stop-color="#a87038"/></radialGradient>
<ellipse cx="147.5" cy="220.9" rx="4.3" ry="4.5" fill="#35643c" opacity="0.6" filter="url(#bl2)" transform="rotate(0 148.0 218.5)"/>
<g filter="url(#tex)" transform="rotate(0 148.0 218.5)">
<path d="M152.18 218.50C152.18 219.21 152.16 219.92 151.98 220.63C151.79 221.34 151.55 222.28 151.06 222.77C150.57 223.26 149.72 223.46 149.04 223.57C148.36 223.67 147.65 223.58 146.99 223.40C146.34 223.22 145.65 222.95 145.13 222.50C144.61 222.05 144.13 221.38 143.87 220.71C143.61 220.04 143.53 219.22 143.56 218.50C143.59 217.78 143.76 217.02 144.05 216.39C144.34 215.76 144.79 215.18 145.28 214.71C145.77 214.24 146.36 213.81 146.99 213.57C147.62 213.34 148.39 213.18 149.07 213.29C149.75 213.40 150.59 213.70 151.08 214.21C151.57 214.72 151.81 215.65 151.99 216.36C152.17 217.08 152.18 217.79 152.18 218.50Z" fill="url(#tg19)"/>
<ellipse cx="148.9" cy="219.0" rx="1.6" ry="1.3" fill="#a87038" opacity="0.52"/>
<ellipse cx="148.5" cy="216.8" rx="1.1" ry="0.9" fill="#e8c080" opacity="0.53"/>
<ellipse cx="146.3" cy="219.9" rx="1.3" ry="1.0" fill="#e8c080" opacity="0.55"/>
<ellipse cx="148.7" cy="215.7" rx="1.3" ry="1.0" fill="#e8c080" opacity="0.52"/>
<ellipse cx="148.5" cy="216.9" rx="1.2" ry="0.9" fill="#e8c080" opacity="0.33"/>
<ellipse cx="148.0" cy="218.4" rx="1.5" ry="1.2" fill="#a87038" opacity="0.34"/>
<ellipse cx="146.2" cy="218.7" rx="1.4" ry="1.1" fill="#e8c080" opacity="0.56"/>
</g>
<radialGradient id="tg20" cx="0.45" cy="0.38" r="0.62"><stop offset="0" stop-color="#e8b870"/><stop offset="0.55" stop-color="#cc8a44"/><stop offset="1" stop-color="#a05c28"/></radialGradient>
<ellipse cx="188.1" cy="217.7" rx="8.5" ry="7.3" fill="#35643c" opacity="0.6" filter="url(#bl2)" transform="rotate(0 188.6 215.3)"/>
<g filter="url(#tex)" transform="rotate(0 188.6 215.3)">
<path d="M197.30 215.30C197.34 216.47 197.15 217.67 196.74 218.85C196.33 220.03 195.82 221.51 194.83 222.37C193.84 223.24 192.18 223.86 190.80 224.04C189.42 224.23 187.82 223.89 186.54 223.46C185.26 223.04 184.08 222.31 183.12 221.52C182.17 220.72 181.43 219.72 180.83 218.69C180.24 217.65 179.74 216.51 179.57 215.30C179.39 214.09 179.23 212.55 179.77 211.45C180.32 210.36 181.68 209.42 182.81 208.73C183.95 208.04 185.27 207.61 186.59 207.31C187.90 207.02 189.40 206.73 190.70 206.95C192.01 207.18 193.48 207.85 194.44 208.67C195.41 209.48 196.01 210.75 196.49 211.86C196.96 212.97 197.26 214.13 197.30 215.30Z" fill="url(#tg20)"/>
<ellipse cx="186.5" cy="219.5" rx="2.5" ry="1.9" fill="#a05c28" opacity="0.49"/>
<ellipse cx="189.8" cy="212.3" rx="2.0" ry="1.5" fill="#e8b870" opacity="0.31"/>
<ellipse cx="190.3" cy="216.3" rx="3.3" ry="2.5" fill="#a05c28" opacity="0.51"/>
<ellipse cx="189.4" cy="216.5" rx="1.8" ry="1.4" fill="#e8b870" opacity="0.56"/>
<ellipse cx="189.0" cy="217.3" rx="1.8" ry="1.4" fill="#e8b870" opacity="0.39"/>
<ellipse cx="191.3" cy="218.2" rx="3.1" ry="2.4" fill="#a05c28" opacity="0.35"/>
<ellipse cx="186.2" cy="212.7" rx="2.7" ry="2.1" fill="#a05c28" opacity="0.58"/>
</g>
<radialGradient id="tg21" cx="0.45" cy="0.38" r="0.62"><stop offset="0" stop-color="#ecd88c"/><stop offset="0.55" stop-color="#ccb460"/><stop offset="1" stop-color="#8a7636"/></radialGradient>
<ellipse cx="47.9" cy="283.8" rx="6.0" ry="5.4" fill="#35643c" opacity="0.6" filter="url(#bl2)" transform="rotate(0 48.4 281.4)"/>
<g filter="url(#tex)" transform="rotate(0 48.4 281.4)">
<path d="M54.77 281.40C54.77 282.29 54.63 283.23 54.29 284.08C53.95 284.93 53.46 285.96 52.73 286.52C51.99 287.09 50.81 287.37 49.86 287.45C48.92 287.53 47.93 287.25 47.05 287.00C46.16 286.76 45.29 286.45 44.55 285.96C43.81 285.46 43.07 284.79 42.61 284.03C42.15 283.27 41.86 282.31 41.79 281.40C41.73 280.49 41.80 279.40 42.22 278.59C42.65 277.78 43.51 277.00 44.32 276.56C45.13 276.12 46.17 276.12 47.08 275.95C48.00 275.79 48.91 275.48 49.80 275.58C50.70 275.69 51.73 276.05 52.47 276.58C53.21 277.10 53.87 277.93 54.25 278.74C54.63 279.54 54.76 280.51 54.77 281.40Z" fill="url(#tg21)"/>
<ellipse cx="52.1" cy="282.3" rx="2.5" ry="1.9" fill="#ecd88c" opacity="0.48"/>
<ellipse cx="50.3" cy="281.8" rx="2.1" ry="1.6" fill="#8a7636" opacity="0.59"/>
<ellipse cx="47.6" cy="282.3" rx="2.6" ry="2.0" fill="#8a7636" opacity="0.58"/>
<ellipse cx="45.8" cy="282.1" rx="1.9" ry="1.4" fill="#8a7636" opacity="0.36"/>
<ellipse cx="51.8" cy="282.2" rx="1.7" ry="1.3" fill="#ecd88c" opacity="0.36"/>
<ellipse cx="51.9" cy="280.7" rx="2.5" ry="1.9" fill="#ecd88c" opacity="0.47"/>
<ellipse cx="48.3" cy="280.4" rx="2.1" ry="1.6" fill="#ecd88c" opacity="0.36"/>
</g>
<radialGradient id="tg22" cx="0.45" cy="0.38" r="0.62"><stop offset="0" stop-color="#f2e098"/><stop offset="0.55" stop-color="#d8c070"/><stop offset="1" stop-color="#a08c44"/></radialGradient>
<ellipse cx="79.2" cy="279.0" rx="5.5" ry="7.7" fill="#35643c" opacity="0.6" filter="url(#bl2)" transform="rotate(0 79.7 276.6)"/>
<g filter="url(#tex)" transform="rotate(0 79.7 276.6)">
<path d="M85.75 276.60C85.82 277.87 85.63 279.39 85.25 280.56C84.87 281.73 84.18 282.87 83.48 283.62C82.77 284.37 81.85 284.86 81.01 285.08C80.16 285.30 79.27 285.15 78.42 284.92C77.56 284.69 76.52 284.48 75.88 283.71C75.23 282.93 74.86 281.47 74.54 280.28C74.22 279.10 73.99 277.84 73.97 276.60C73.95 275.36 74.12 274.06 74.41 272.82C74.70 271.59 75.07 270.09 75.71 269.19C76.36 268.29 77.40 267.59 78.28 267.41C79.17 267.23 80.18 267.68 81.01 268.11C81.84 268.53 82.64 269.15 83.27 269.95C83.91 270.76 84.42 271.83 84.83 272.93C85.25 274.04 85.69 275.33 85.75 276.60Z" fill="url(#tg22)"/>
<ellipse cx="82.8" cy="278.0" rx="2.2" ry="1.7" fill="#a08c44" opacity="0.36"/>
<ellipse cx="81.2" cy="273.6" rx="2.7" ry="2.1" fill="#f2e098" opacity="0.59"/>
<ellipse cx="77.1" cy="274.9" rx="2.2" ry="1.7" fill="#a08c44" opacity="0.59"/>
<ellipse cx="78.6" cy="280.7" rx="2.7" ry="2.1" fill="#f2e098" opacity="0.34"/>
<ellipse cx="80.9" cy="273.0" rx="1.6" ry="1.2" fill="#a08c44" opacity="0.46"/>
<ellipse cx="83.0" cy="277.6" rx="2.1" ry="1.6" fill="#f2e098" opacity="0.42"/>
<ellipse cx="77.9" cy="272.4" rx="1.7" ry="1.3" fill="#a08c44" opacity="0.47"/>
</g>
<radialGradient id="tg23" cx="0.45" cy="0.38" r="0.62"><stop offset="0" stop-color="#f4e4a0"/><stop offset="0.55" stop-color="#dcc474"/><stop offset="1" stop-color="#a89048"/></radialGradient>
<ellipse cx="112.7" cy="280.1" rx="6.8" ry="5.9" fill="#35643c" opacity="0.6" filter="url(#bl2)" transform="rotate(0 113.2 277.7)"/>
<g filter="url(#tex)" transform="rotate(0 113.2 277.7)">
<path d="M120.01 277.70C120.15 278.67 120.52 279.85 120.20 280.79C119.89 281.74 119.04 282.80 118.14 283.38C117.25 283.97 115.92 284.22 114.84 284.30C113.76 284.38 112.68 284.10 111.67 283.86C110.65 283.61 109.60 283.35 108.75 282.81C107.91 282.27 107.04 281.46 106.61 280.61C106.18 279.76 106.16 278.67 106.17 277.70C106.18 276.73 106.24 275.69 106.64 274.81C107.05 273.92 107.78 273.03 108.59 272.40C109.41 271.77 110.48 271.26 111.53 271.01C112.59 270.76 113.87 270.65 114.89 270.91C115.91 271.16 116.92 271.88 117.67 272.56C118.41 273.24 118.96 274.13 119.36 274.98C119.75 275.84 119.87 276.73 120.01 277.70Z" fill="url(#tg23)"/>
<ellipse cx="113.0" cy="275.6" rx="1.6" ry="1.2" fill="#f4e4a0" opacity="0.48"/>
<ellipse cx="111.4" cy="275.2" rx="3.1" ry="2.4" fill="#a89048" opacity="0.53"/>
<ellipse cx="111.1" cy="279.8" rx="2.6" ry="2.0" fill="#a89048" opacity="0.33"/>
<ellipse cx="109.7" cy="278.2" rx="2.5" ry="1.9" fill="#a89048" opacity="0.49"/>
<ellipse cx="113.8" cy="279.0" rx="2.0" ry="1.6" fill="#f4e4a0" opacity="0.36"/>
<ellipse cx="114.0" cy="278.3" rx="1.5" ry="1.2" fill="#a89048" opacity="0.47"/>
<ellipse cx="114.2" cy="275.9" rx="2.1" ry="1.6" fill="#a89048" opacity="0.39"/>
</g>
<radialGradient id="tg24" cx="0.45" cy="0.38" r="0.62"><stop offset="0" stop-color="#ecc880"/><stop offset="0.55" stop-color="#d4a858"/><stop offset="1" stop-color="#a07434"/></radialGradient>
<ellipse cx="153.5" cy="279.0" rx="5.7" ry="7.9" fill="#35643c" opacity="0.6" filter="url(#bl2)" transform="rotate(35 154.0 276.6)"/>
<g filter="url(#tex)" transform="rotate(35 154.0 276.6)">
<path d="M159.74 276.60C159.75 277.85 159.61 279.11 159.33 280.34C159.05 281.58 158.71 283.18 158.05 284.01C157.39 284.84 156.27 285.10 155.37 285.33C154.46 285.56 153.48 285.70 152.62 285.41C151.76 285.11 150.91 284.37 150.19 283.56C149.48 282.75 148.72 281.73 148.35 280.57C147.98 279.41 147.95 277.89 147.99 276.60C148.04 275.31 148.24 273.96 148.62 272.82C149.00 271.68 149.61 270.65 150.27 269.78C150.93 268.90 151.72 268.01 152.59 267.56C153.46 267.12 154.59 266.81 155.48 267.11C156.38 267.42 157.30 268.43 157.94 269.39C158.58 270.35 159.02 271.66 159.32 272.87C159.62 274.07 159.74 275.35 159.74 276.60Z" fill="url(#tg24)"/>
<ellipse cx="156.9" cy="275.5" rx="2.0" ry="1.6" fill="#a07434" opacity="0.59"/>
<ellipse cx="156.6" cy="278.9" rx="2.7" ry="2.1" fill="#a07434" opacity="0.40"/>
<ellipse cx="153.2" cy="280.0" rx="1.9" ry="1.5" fill="#ecc880" opacity="0.58"/>
<ellipse cx="152.6" cy="281.1" rx="1.4" ry="1.1" fill="#a07434" opacity="0.50"/>
<ellipse cx="155.0" cy="272.2" rx="2.9" ry="2.2" fill="#ecc880" opacity="0.38"/>
<ellipse cx="153.8" cy="271.6" rx="1.5" ry="1.1" fill="#a07434" opacity="0.35"/>
<ellipse cx="155.4" cy="279.2" rx="2.4" ry="1.8" fill="#ecc880" opacity="0.34"/>
</g>
<radialGradient id="tg25" cx="0.45" cy="0.38" r="0.62"><stop offset="0" stop-color="#f2e8a4"/><stop offset="0.55" stop-color="#dcca78"/><stop offset="1" stop-color="#a8984c"/></radialGradient>
<ellipse cx="190.2" cy="279.1" rx="7.1" ry="6.9" fill="#35643c" opacity="0.6" filter="url(#bl2)" transform="rotate(0 190.7 276.7)"/>
<g filter="url(#tex)" transform="rotate(0 190.7 276.7)">
<path d="M198.18 276.70C198.20 277.87 198.37 279.22 197.93 280.25C197.49 281.29 196.50 282.34 195.55 282.90C194.60 283.47 193.33 283.44 192.25 283.63C191.17 283.82 190.13 284.17 189.05 284.06C187.98 283.95 186.76 283.58 185.81 282.96C184.85 282.34 183.80 281.37 183.32 280.33C182.83 279.28 182.79 277.86 182.89 276.70C183.00 275.54 183.39 274.33 183.96 273.39C184.52 272.44 185.41 271.70 186.26 271.02C187.11 270.33 188.01 269.63 189.04 269.28C190.07 268.92 191.35 268.69 192.45 268.87C193.56 269.05 194.78 269.62 195.67 270.35C196.56 271.07 197.38 272.15 197.80 273.21C198.22 274.27 198.16 275.53 198.18 276.70Z" fill="url(#tg25)"/>
<ellipse cx="187.9" cy="273.8" rx="2.0" ry="1.6" fill="#a8984c" opacity="0.44"/>
<ellipse cx="194.2" cy="279.4" rx="2.9" ry="2.2" fill="#a8984c" opacity="0.47"/>
<ellipse cx="189.3" cy="277.6" rx="2.0" ry="1.5" fill="#a8984c" opacity="0.32"/>
<ellipse cx="187.9" cy="275.5" rx="1.9" ry="1.5" fill="#f2e8a4" opacity="0.31"/>
<ellipse cx="192.6" cy="280.3" rx="2.1" ry="1.6" fill="#a8984c" opacity="0.47"/>
<ellipse cx="188.0" cy="277.9" rx="2.6" ry="2.0" fill="#a8984c" opacity="0.32"/>
<ellipse cx="191.6" cy="274.7" rx="1.7" ry="1.3" fill="#a8984c" opacity="0.54"/>
</g>
<ellipse cx="115.3" cy="239.6" rx="1.2" ry="0.8" fill="#2a3a2a" opacity="0.55"/>
<ellipse cx="151.8" cy="239.6" rx="1.8" ry="0.8" fill="#2a3a2a" opacity="0.55"/>
<ellipse cx="188.3" cy="239.6" rx="2.4" ry="0.8" fill="#2a3a2a" opacity="0.55"/>
<rect x="23.0" y="49.1" width="56.1" height="10.6" fill="#fff"/>
<text transform="translate(23.81,56.60) scale(1.309,1)" font-family='"Liberation Sans", sans-serif' font-size="10.20" font-weight="normal" fill="#111" stroke="#111" stroke-width="0.23" stroke-linejoin="round" >negative</text>
<rect x="22.1" y="109.9" width="67.7" height="10.9" fill="#fff"/>
<text transform="translate(21.25,118.40) scale(1.411,1)" font-family='"Liberation Sans", sans-serif' font-size="9.80" font-weight="normal" fill="#111" stroke="#111" stroke-width="0.21" stroke-linejoin="round" >1’ 20mg/kg</text>
<rect x="22.1" y="170.6" width="67.4" height="10.6" fill="#fff"/>
<text transform="translate(21.34,180.20) scale(1.269,1)" font-family='"Liberation Sans", sans-serif' font-size="11.00" font-weight="normal" fill="#111" stroke="#111" stroke-width="0.24" stroke-linejoin="round" >1’ 50mg/kg</text>
<rect x="22.1" y="229.0" width="78.1" height="11.8" fill="#fff"/>
<text transform="translate(21.93,238.20) scale(1.324,1)" font-family='"Liberation Sans", sans-serif' font-size="10.60" font-weight="normal" fill="#111" stroke="#111" stroke-width="0.23" stroke-linejoin="round" >1’ 100mg/kg</text>
<rect x="22.1" y="292.8" width="50.7" height="10.4" fill="#fff"/>
<text transform="translate(22.53,301.30) scale(1.215,1)" font-family='"Liberation Sans", sans-serif' font-size="10.80" font-weight="normal" fill="#111" stroke="#111" stroke-width="0.25" stroke-linejoin="round" >sorafinib</text>
<path d="M296.40 15.50V147.60" stroke="#000" stroke-width="1.5" fill="none"/>
<path d="M289.40 142.40H542.40" stroke="#000" stroke-width="1.4" fill="none"/>
<path d="M289.60 100.33H296.4" stroke="#000" stroke-width="1.4"/>
<path d="M289.60 58.27H296.4" stroke="#000" stroke-width="1.4"/>
<path d="M289.60 16.20H296.4" stroke="#000" stroke-width="1.4"/>
<path d="M320.93 142.40V147.60" stroke="#000" stroke-width="1.4"/>
<path d="M345.46 142.40V147.60" stroke="#000" stroke-width="1.4"/>
<path d="M369.99 142.40V147.60" stroke="#000" stroke-width="1.4"/>
<path d="M394.52 142.40V147.60" stroke="#000" stroke-width="1.4"/>
<path d="M419.05 142.40V147.60" stroke="#000" stroke-width="1.4"/>
<path d="M443.58 142.40V147.60" stroke="#000" stroke-width="1.4"/>
<path d="M468.11 142.40V147.60" stroke="#000" stroke-width="1.4"/>
<path d="M492.64 142.40V147.60" stroke="#000" stroke-width="1.4"/>
<path d="M517.17 142.40V147.60" stroke="#000" stroke-width="1.4"/>
<path d="M541.70 142.40V147.60" stroke="#000" stroke-width="1.4"/>
<text transform="translate(280.83,145.50) scale(1.332,1)" font-family='"Liberation Sans", sans-serif' font-size="9.00" font-weight="bold" fill="#000" stroke="#000" stroke-width="0.23" stroke-linejoin="round" >0</text>
<text transform="translate(280.95,103.43) scale(1.273,1)" font-family='"Liberation Sans", sans-serif' font-size="9.00" font-weight="bold" fill="#000" stroke="#000" stroke-width="0.24" stroke-linejoin="round" >5</text>
<text transform="translate(274.14,61.36) scale(1.333,1)" font-family='"Liberation Sans", sans-serif' font-size="9.00" font-weight="bold" fill="#000" stroke="#000" stroke-width="0.22" stroke-linejoin="round" >10</text>
<text transform="translate(274.15,19.30) scale(1.316,1)" font-family='"Liberation Sans", sans-serif' font-size="9.00" font-weight="bold" fill="#000" stroke="#000" stroke-width="0.23" stroke-linejoin="round" >15</text>
<text transform="translate(293.02,158.10) scale(1.447,1)" font-family='"Liberation Sans", sans-serif' font-size="8.43" font-weight="bold" fill="#000" stroke="#000" stroke-width="0.21" stroke-linejoin="round" >0</text>
<text transform="translate(317.76,158.10) scale(1.384,1)" font-family='"Liberation Sans", sans-serif' font-size="8.43" font-weight="bold" fill="#000" stroke="#000" stroke-width="0.22" stroke-linejoin="round" >3</text>
<text transform="translate(342.12,158.10) scale(1.423,1)" font-family='"Liberation Sans", sans-serif' font-size="8.43" font-weight="bold" fill="#000" stroke="#000" stroke-width="0.21" stroke-linejoin="round" >6</text>
<text transform="translate(366.67,158.10) scale(1.420,1)" font-family='"Liberation Sans", sans-serif' font-size="8.43" font-weight="bold" fill="#000" stroke="#000" stroke-width="0.21" stroke-linejoin="round" >9</text>
<text transform="translate(387.32,158.10) scale(1.504,1)" font-family='"Liberation Sans", sans-serif' font-size="8.43" font-weight="bold" fill="#000" stroke="#000" stroke-width="0.20" stroke-linejoin="round" >12</text>
<text transform="translate(411.86,158.10) scale(1.486,1)" font-family='"Liberation Sans", sans-serif' font-size="8.43" font-weight="bold" fill="#000" stroke="#000" stroke-width="0.20" stroke-linejoin="round" >15</text>
<text transform="translate(436.39,158.10) scale(1.491,1)" font-family='"Liberation Sans", sans-serif' font-size="8.43" font-weight="bold" fill="#000" stroke="#000" stroke-width="0.20" stroke-linejoin="round" >18</text>
<text transform="translate(461.29,158.10) scale(1.446,1)" font-family='"Liberation Sans", sans-serif' font-size="8.43" font-weight="bold" fill="#000" stroke="#000" stroke-width="0.21" stroke-linejoin="round" >21</text>
<text transform="translate(485.83,158.10) scale(1.416,1)" font-family='"Liberation Sans", sans-serif' font-size="8.43" font-weight="bold" fill="#000" stroke="#000" stroke-width="0.21" stroke-linejoin="round" >24</text>
<text transform="translate(510.34,158.10) scale(1.469,1)" font-family='"Liberation Sans", sans-serif' font-size="8.43" font-weight="bold" fill="#000" stroke="#000" stroke-width="0.20" stroke-linejoin="round" >27</text>
<text transform="translate(535.02,158.10) scale(1.448,1)" font-family='"Liberation Sans", sans-serif' font-size="8.43" font-weight="bold" fill="#000" stroke="#000" stroke-width="0.21" stroke-linejoin="round" >30</text>
<text transform="translate(402.99,173.50) scale(1.263,1)" font-family='"Liberation Sans", sans-serif' font-size="10.76" font-weight="bold" fill="#000" stroke="#000" stroke-width="0.24" stroke-linejoin="round" >Days</text>
<text transform="translate(267.70,97.09) rotate(-90) scale(0.952,1)" font-family='"Liberation Sans", sans-serif' font-size="10.90" font-weight="bold" fill="#000" stroke="#000" stroke-width="0.00">Ratio:v</text>
<text transform="translate(251.55,18.70) scale(1.013,1)" font-family='"Liberation Sans", sans-serif' font-size="17.44" font-weight="normal" fill="#000" stroke="#000" stroke-width="0.44" stroke-linejoin="round" >B</text>
<rect x="305.5" y="13.5" width="105.5" height="39.2" fill="#fff" stroke="#e6e6e6" stroke-width="0.6"/>
<rect x="305.5" y="53.7" width="105.5" height="29.1" fill="#fff" stroke="#e6e6e6" stroke-width="0.6"/>
<path d="M305.5 23.30H411.0" stroke="#e6e6e6" stroke-width="0.6"/>
<path d="M305.5 33.10H411.0" stroke="#e6e6e6" stroke-width="0.6"/>
<path d="M305.5 42.90H411.0" stroke="#e6e6e6" stroke-width="0.6"/>
<path d="M305.5 63.40H411.0" stroke="#e6e6e6" stroke-width="0.6"/>
<path d="M305.5 73.10H411.0" stroke="#e6e6e6" stroke-width="0.6"/>
<path d="M376.0 13.5V52.7M377.0 53.7V82.8M389.6 53.7V82.8" stroke="#e6e6e6" stroke-width="0.6"/>
<text transform="translate(308.15,19.90) scale(1.130,1)" font-family='"Liberation Sans", sans-serif' font-size="4.70" font-weight="bold" fill="#1a1a1a" stroke="#1a1a1a" stroke-width="0.11" stroke-linejoin="round" >negative vs 1’ 100mg/Kg</text>
<text transform="translate(378.58,19.90) scale(1.044,1)" font-family='"Liberation Sans", sans-serif' font-size="4.70" font-weight="bold" fill="#1a1a1a" stroke="#1a1a1a" stroke-width="0.10" stroke-linejoin="round" >ns</text>
<text transform="translate(392.88,20.00) scale(1.184,1)" font-family='"Liberation Sans", sans-serif' font-size="4.70" font-weight="bold" fill="#1a1a1a" stroke="#1a1a1a" stroke-width="0.08" stroke-linejoin="round" >0.313</text>
<text transform="translate(308.15,29.70) scale(1.130,1)" font-family='"Liberation Sans", sans-serif' font-size="4.70" font-weight="bold" fill="#1a1a1a" stroke="#1a1a1a" stroke-width="0.11" stroke-linejoin="round" >negative vs 1’ 50mg/Kg</text>
<text transform="translate(379.58,30.20) scale(0.773,1)" font-family='"Liberation Sans", sans-serif' font-size="7.05" font-weight="bold" fill="#1a1a1a" stroke="#1a1a1a" stroke-width="0.19" stroke-linejoin="round" >*</text>
<text transform="translate(392.88,29.80) scale(1.186,1)" font-family='"Liberation Sans", sans-serif' font-size="4.70" font-weight="bold" fill="#1a1a1a" stroke="#1a1a1a" stroke-width="0.08" stroke-linejoin="round" >0.042</text>
<text transform="translate(308.15,39.50) scale(1.130,1)" font-family='"Liberation Sans", sans-serif' font-size="4.70" font-weight="bold" fill="#1a1a1a" stroke="#1a1a1a" stroke-width="0.11" stroke-linejoin="round" >negative vs 1’ 20mg/Kg</text>
<text transform="translate(379.58,40.00) scale(0.773,1)" font-family='"Liberation Sans", sans-serif' font-size="7.05" font-weight="bold" fill="#1a1a1a" stroke="#1a1a1a" stroke-width="0.19" stroke-linejoin="round" >*</text>
<text transform="translate(392.88,39.60) scale(1.169,1)" font-family='"Liberation Sans", sans-serif' font-size="4.70" font-weight="bold" fill="#1a1a1a" stroke="#1a1a1a" stroke-width="0.09" stroke-linejoin="round" >0.014</text>
<text transform="translate(308.15,49.30) scale(1.130,1)" font-family='"Liberation Sans", sans-serif' font-size="4.70" font-weight="bold" fill="#1a1a1a" stroke="#1a1a1a" stroke-width="0.11" stroke-linejoin="round" >negative vs sorafinib</text>
<text transform="translate(379.58,49.80) scale(0.773,1)" font-family='"Liberation Sans", sans-serif' font-size="7.05" font-weight="bold" fill="#1a1a1a" stroke="#1a1a1a" stroke-width="0.19" stroke-linejoin="round" >*</text>
<text transform="translate(392.88,49.40) scale(1.186,1)" font-family='"Liberation Sans", sans-serif' font-size="4.70" font-weight="bold" fill="#1a1a1a" stroke="#1a1a1a" stroke-width="0.08" stroke-linejoin="round" >0.022</text>
<text transform="translate(308.31,60.05) scale(1.130,1)" font-family='"Liberation Sans", sans-serif' font-size="4.70" font-weight="bold" fill="#1a1a1a" stroke="#1a1a1a" stroke-width="0.11" stroke-linejoin="round" >sorafinib vs 1’ 100mg/Kg</text>
<text transform="translate(378.58,60.05) scale(1.044,1)" font-family='"Liberation Sans", sans-serif' font-size="4.70" font-weight="bold" fill="#1a1a1a" stroke="#1a1a1a" stroke-width="0.10" stroke-linejoin="round" >ns</text>
<text transform="translate(392.88,60.15) scale(1.184,1)" font-family='"Liberation Sans", sans-serif' font-size="4.70" font-weight="bold" fill="#1a1a1a" stroke="#1a1a1a" stroke-width="0.08" stroke-linejoin="round" >0.326</text>
<text transform="translate(308.31,69.75) scale(1.130,1)" font-family='"Liberation Sans", sans-serif' font-size="4.70" font-weight="bold" fill="#1a1a1a" stroke="#1a1a1a" stroke-width="0.11" stroke-linejoin="round" >sorafinib vs 1’ 50mg/Kg</text>
<text transform="translate(378.58,69.75) scale(1.044,1)" font-family='"Liberation Sans", sans-serif' font-size="4.70" font-weight="bold" fill="#1a1a1a" stroke="#1a1a1a" stroke-width="0.10" stroke-linejoin="round" >ns</text>
<text transform="translate(392.88,69.85) scale(1.180,1)" font-family='"Liberation Sans", sans-serif' font-size="4.70" font-weight="bold" fill="#1a1a1a" stroke="#1a1a1a" stroke-width="0.08" stroke-linejoin="round" >0.991</text>
<text transform="translate(308.31,79.45) scale(1.130,1)" font-family='"Liberation Sans", sans-serif' font-size="4.70" font-weight="bold" fill="#1a1a1a" stroke="#1a1a1a" stroke-width="0.11" stroke-linejoin="round" >sorafinib vs 1’ 20mg/Kg</text>
<text transform="translate(378.58,79.45) scale(1.044,1)" font-family='"Liberation Sans", sans-serif' font-size="4.70" font-weight="bold" fill="#1a1a1a" stroke="#1a1a1a" stroke-width="0.10" stroke-linejoin="round" >ns</text>
<text transform="translate(392.88,79.55) scale(1.181,1)" font-family='"Liberation Sans", sans-serif' font-size="4.70" font-weight="bold" fill="#1a1a1a" stroke="#1a1a1a" stroke-width="0.08" stroke-linejoin="round" >0.998</text>
<polyline points="320.93,130.50 345.46,131.00 369.99,121.20 394.52,117.50 419.05,111.40 443.58,107.90 468.11,103.00 492.64,104.70 517.17,97.50 541.70,92.20" fill="none" stroke="#a046b0" stroke-width="1.0" stroke-linejoin="round"/>
<path d="M318.53 130.50L320.93 128.40L323.33 130.50L320.93 132.60Z" fill="#a034ac"/>
<path d="M343.06 131.00L345.46 128.90L347.86 131.00L345.46 133.10Z" fill="#a034ac"/>
<path d="M367.59 121.20L369.99 119.10L372.39 121.20L369.99 123.30Z" fill="#a034ac"/>
<path d="M392.12 117.50L394.52 115.40L396.92 117.50L394.52 119.60Z" fill="#a034ac"/>
<path d="M416.65 111.40L419.05 109.30L421.45 111.40L419.05 113.50Z" fill="#a034ac"/>
<path d="M441.18 107.90L443.58 105.80L445.98 107.90L443.58 110.00Z" fill="#a034ac"/>
<path d="M465.71 103.00L468.11 100.90L470.51 103.00L468.11 105.10Z" fill="#a034ac"/>
<path d="M490.24 104.70L492.64 102.60L495.04 104.70L492.64 106.80Z" fill="#a034ac"/>
<path d="M514.77 97.50L517.17 95.40L519.57 97.50L517.17 99.60Z" fill="#a034ac"/>
<path d="M539.30 92.20L541.70 90.10L544.10 92.20L541.70 94.30Z" fill="#a034ac"/>
<polyline points="320.93,130.20 345.46,132.20 369.99,121.50 394.52,108.80 419.05,115.80 443.58,106.70 468.11,100.30 492.64,103.00 517.17,93.00 541.70,88.60" fill="none" stroke="#3a3f9e" stroke-width="1.0" stroke-linejoin="round"/>
<path d="M318.33 128.50L323.53 128.50L320.93 132.20Z" fill="#2f3fb0"/>
<path d="M342.86 130.50L348.06 130.50L345.46 134.20Z" fill="#2f3fb0"/>
<path d="M367.39 119.80L372.59 119.80L369.99 123.50Z" fill="#2f3fb0"/>
<path d="M391.92 107.10L397.12 107.10L394.52 110.80Z" fill="#2f3fb0"/>
<path d="M416.45 114.10L421.65 114.10L419.05 117.80Z" fill="#2f3fb0"/>
<path d="M440.98 105.00L446.18 105.00L443.58 108.70Z" fill="#2f3fb0"/>
<path d="M465.51 98.60L470.71 98.60L468.11 102.30Z" fill="#2f3fb0"/>
<path d="M490.04 101.30L495.24 101.30L492.64 105.00Z" fill="#2f3fb0"/>
<path d="M514.57 91.30L519.77 91.30L517.17 95.00Z" fill="#2f3fb0"/>
<path d="M539.10 86.90L544.30 86.90L541.70 90.60Z" fill="#2f3fb0"/>
<polyline points="320.93,131.70 345.46,131.50 369.99,118.70 394.52,116.10 419.05,116.00 443.58,106.80 468.11,98.00 492.64,98.90 517.17,79.60 541.70,79.60" fill="none" stroke="#3cb44b" stroke-width="1.0" stroke-linejoin="round"/>
<path d="M318.33 133.40L323.53 133.40L320.93 129.70Z" fill="#22b03c"/>
<path d="M342.86 133.20L348.06 133.20L345.46 129.50Z" fill="#22b03c"/>
<path d="M367.39 120.40L372.59 120.40L369.99 116.70Z" fill="#22b03c"/>
<path d="M391.92 117.80L397.12 117.80L394.52 114.10Z" fill="#22b03c"/>
<path d="M416.45 117.70L421.65 117.70L419.05 114.00Z" fill="#22b03c"/>
<path d="M440.98 108.50L446.18 108.50L443.58 104.80Z" fill="#22b03c"/>
<path d="M465.51 99.70L470.71 99.70L468.11 96.00Z" fill="#22b03c"/>
<path d="M490.04 100.60L495.24 100.60L492.64 96.90Z" fill="#22b03c"/>
<path d="M514.57 81.30L519.77 81.30L517.17 77.60Z" fill="#22b03c"/>
<path d="M539.10 81.30L544.30 81.30L541.70 77.60Z" fill="#22b03c"/>
<polyline points="320.93,127.90 345.46,128.00 369.99,115.70 394.52,106.90 419.05,99.00 443.58,93.80 468.11,81.00 492.64,81.60 517.17,72.70 541.70,73.80" fill="none" stroke="#eca552" stroke-width="1.0" stroke-linejoin="round"/>
<rect x="318.58" y="125.95" width="4.70" height="3.90" fill="#f37e21"/>
<rect x="343.11" y="126.05" width="4.70" height="3.90" fill="#f37e21"/>
<rect x="367.64" y="113.75" width="4.70" height="3.90" fill="#f37e21"/>
<rect x="392.17" y="104.95" width="4.70" height="3.90" fill="#f37e21"/>
<rect x="416.70" y="97.05" width="4.70" height="3.90" fill="#f37e21"/>
<rect x="441.23" y="91.85" width="4.70" height="3.90" fill="#f37e21"/>
<rect x="465.76" y="79.05" width="4.70" height="3.90" fill="#f37e21"/>
<rect x="490.29" y="79.65" width="4.70" height="3.90" fill="#f37e21"/>
<rect x="514.82" y="70.75" width="4.70" height="3.90" fill="#f37e21"/>
<rect x="539.35" y="71.85" width="4.70" height="3.90" fill="#f37e21"/>
<polyline points="320.93,127.30 345.46,115.60 369.99,121.20 394.52,100.20 419.05,89.30 443.58,74.60 468.11,60.70 492.64,51.50 517.17,41.60 541.70,43.00" fill="none" stroke="#d85858" stroke-width="1.0" stroke-linejoin="round"/>
<ellipse cx="320.93" cy="127.30" rx="2.60" ry="2.05" fill="#ee3e40"/>
<ellipse cx="345.46" cy="115.60" rx="2.60" ry="2.05" fill="#ee3e40"/>
<ellipse cx="369.99" cy="121.20" rx="2.60" ry="2.05" fill="#ee3e40"/>
<ellipse cx="394.52" cy="100.20" rx="2.60" ry="2.05" fill="#ee3e40"/>
<ellipse cx="419.05" cy="89.30" rx="2.60" ry="2.05" fill="#ee3e40"/>
<ellipse cx="443.58" cy="74.60" rx="2.60" ry="2.05" fill="#ee3e40"/>
<ellipse cx="468.11" cy="60.70" rx="2.60" ry="2.05" fill="#ee3e40"/>
<ellipse cx="492.64" cy="51.50" rx="2.60" ry="2.05" fill="#ee3e40"/>
<ellipse cx="517.17" cy="41.60" rx="2.60" ry="2.05" fill="#ee3e40"/>
<ellipse cx="541.70" cy="43.00" rx="2.60" ry="2.05" fill="#ee3e40"/>
<path d="M292.40 185.90V326.00" stroke="#000" stroke-width="1.5" fill="none"/>
<path d="M285.40 320.80H538.80" stroke="#000" stroke-width="1.4" fill="none"/>
<path d="M285.60 276.07H292.4" stroke="#000" stroke-width="1.4"/>
<path d="M285.60 231.33H292.4" stroke="#000" stroke-width="1.4"/>
<path d="M285.60 186.60H292.4" stroke="#000" stroke-width="1.4"/>
<path d="M316.97 320.80V326.00" stroke="#000" stroke-width="1.4"/>
<path d="M341.54 320.80V326.00" stroke="#000" stroke-width="1.4"/>
<path d="M366.11 320.80V326.00" stroke="#000" stroke-width="1.4"/>
<path d="M390.68 320.80V326.00" stroke="#000" stroke-width="1.4"/>
<path d="M415.25 320.80V326.00" stroke="#000" stroke-width="1.4"/>
<path d="M439.82 320.80V326.00" stroke="#000" stroke-width="1.4"/>
<path d="M464.39 320.80V326.00" stroke="#000" stroke-width="1.4"/>
<path d="M488.96 320.80V326.00" stroke="#000" stroke-width="1.4"/>
<path d="M513.53 320.80V326.00" stroke="#000" stroke-width="1.4"/>
<path d="M538.10 320.80V326.00" stroke="#000" stroke-width="1.4"/>
<text transform="translate(277.63,324.14) scale(1.236,1)" font-family='"Liberation Sans", sans-serif' font-size="9.70" font-weight="bold" fill="#000" stroke="#000" stroke-width="0.24" stroke-linejoin="round" >0</text>
<text transform="translate(277.75,279.40) scale(1.181,1)" font-family='"Liberation Sans", sans-serif' font-size="9.70" font-weight="bold" fill="#000" stroke="#000" stroke-width="0.25" stroke-linejoin="round" >5</text>
<text transform="translate(270.94,234.67) scale(1.237,1)" font-family='"Liberation Sans", sans-serif' font-size="9.70" font-weight="bold" fill="#000" stroke="#000" stroke-width="0.24" stroke-linejoin="round" >10</text>
<text transform="translate(270.95,189.94) scale(1.221,1)" font-family='"Liberation Sans", sans-serif' font-size="9.70" font-weight="bold" fill="#000" stroke="#000" stroke-width="0.25" stroke-linejoin="round" >15</text>
<text transform="translate(289.02,338.00) scale(1.234,1)" font-family='"Liberation Sans", sans-serif' font-size="9.88" font-weight="bold" fill="#000" stroke="#000" stroke-width="0.24" stroke-linejoin="round" >0</text>
<text transform="translate(313.80,338.00) scale(1.181,1)" font-family='"Liberation Sans", sans-serif' font-size="9.88" font-weight="bold" fill="#000" stroke="#000" stroke-width="0.25" stroke-linejoin="round" >3</text>
<text transform="translate(338.20,338.00) scale(1.214,1)" font-family='"Liberation Sans", sans-serif' font-size="9.88" font-weight="bold" fill="#000" stroke="#000" stroke-width="0.25" stroke-linejoin="round" >6</text>
<text transform="translate(362.79,338.00) scale(1.212,1)" font-family='"Liberation Sans", sans-serif' font-size="9.88" font-weight="bold" fill="#000" stroke="#000" stroke-width="0.25" stroke-linejoin="round" >9</text>
<text transform="translate(383.48,338.00) scale(1.283,1)" font-family='"Liberation Sans", sans-serif' font-size="9.88" font-weight="bold" fill="#000" stroke="#000" stroke-width="0.23" stroke-linejoin="round" >12</text>
<text transform="translate(408.06,338.00) scale(1.268,1)" font-family='"Liberation Sans", sans-serif' font-size="9.88" font-weight="bold" fill="#000" stroke="#000" stroke-width="0.24" stroke-linejoin="round" >15</text>
<text transform="translate(432.63,338.00) scale(1.271,1)" font-family='"Liberation Sans", sans-serif' font-size="9.88" font-weight="bold" fill="#000" stroke="#000" stroke-width="0.24" stroke-linejoin="round" >18</text>
<text transform="translate(457.57,338.00) scale(1.234,1)" font-family='"Liberation Sans", sans-serif' font-size="9.88" font-weight="bold" fill="#000" stroke="#000" stroke-width="0.24" stroke-linejoin="round" >21</text>
<text transform="translate(482.15,338.00) scale(1.208,1)" font-family='"Liberation Sans", sans-serif' font-size="9.88" font-weight="bold" fill="#000" stroke="#000" stroke-width="0.25" stroke-linejoin="round" >24</text>
<text transform="translate(506.70,338.00) scale(1.253,1)" font-family='"Liberation Sans", sans-serif' font-size="9.88" font-weight="bold" fill="#000" stroke="#000" stroke-width="0.24" stroke-linejoin="round" >27</text>
<text transform="translate(531.42,338.00) scale(1.235,1)" font-family='"Liberation Sans", sans-serif' font-size="9.88" font-weight="bold" fill="#000" stroke="#000" stroke-width="0.24" stroke-linejoin="round" >30</text>
<text transform="translate(398.98,353.40) scale(1.348,1)" font-family='"Liberation Sans", sans-serif' font-size="10.17" font-weight="bold" fill="#000" stroke="#000" stroke-width="0.22" stroke-linejoin="round" >Days</text>
<text transform="translate(264.20,279.60) rotate(-90) scale(0.898,1)" font-family='"Liberation Sans", sans-serif' font-size="11.59" font-weight="bold" fill="#000" stroke="#000" stroke-width="0.00">Ratio : V/W</text>
<text transform="translate(249.80,193.00) scale(1.014,1)" font-family='"Liberation Sans", sans-serif' font-size="17.44" font-weight="normal" fill="#000" stroke="#000" stroke-width="0.44" stroke-linejoin="round" >C</text>
<rect x="302.8" y="184.9" width="105.1" height="40.8" fill="#fff" stroke="#e6e6e6" stroke-width="0.6"/>
<rect x="302.8" y="226.7" width="105.1" height="30.5" fill="#fff" stroke="#e6e6e6" stroke-width="0.6"/>
<path d="M302.8 195.10H407.9" stroke="#e6e6e6" stroke-width="0.6"/>
<path d="M302.8 205.30H407.9" stroke="#e6e6e6" stroke-width="0.6"/>
<path d="M302.8 215.50H407.9" stroke="#e6e6e6" stroke-width="0.6"/>
<path d="M302.8 236.87H407.9" stroke="#e6e6e6" stroke-width="0.6"/>
<path d="M302.8 247.03H407.9" stroke="#e6e6e6" stroke-width="0.6"/>
<path d="M372.8 184.9V225.7M373.8 226.7V257.2M386.6 226.7V257.2" stroke="#e6e6e6" stroke-width="0.6"/>
<text transform="translate(305.55,191.50) scale(1.130,1)" font-family='"Liberation Sans", sans-serif' font-size="4.70" font-weight="bold" fill="#1a1a1a" stroke="#1a1a1a" stroke-width="0.11" stroke-linejoin="round" >negative vs 1’ 100mg/Kg</text>
<text transform="translate(375.78,191.50) scale(1.044,1)" font-family='"Liberation Sans", sans-serif' font-size="4.70" font-weight="bold" fill="#1a1a1a" stroke="#1a1a1a" stroke-width="0.10" stroke-linejoin="round" >ns</text>
<text transform="translate(389.08,191.60) scale(1.180,1)" font-family='"Liberation Sans", sans-serif' font-size="4.70" font-weight="bold" fill="#1a1a1a" stroke="#1a1a1a" stroke-width="0.08" stroke-linejoin="round" >0.105</text>
<text transform="translate(305.55,201.70) scale(1.130,1)" font-family='"Liberation Sans", sans-serif' font-size="4.70" font-weight="bold" fill="#1a1a1a" stroke="#1a1a1a" stroke-width="0.11" stroke-linejoin="round" >negative vs 1’ 50mg/Kg</text>
<text transform="translate(376.78,202.20) scale(0.773,1)" font-family='"Liberation Sans", sans-serif' font-size="7.05" font-weight="bold" fill="#1a1a1a" stroke="#1a1a1a" stroke-width="0.19" stroke-linejoin="round" >*</text>
<text transform="translate(389.08,201.80) scale(1.187,1)" font-family='"Liberation Sans", sans-serif' font-size="4.70" font-weight="bold" fill="#1a1a1a" stroke="#1a1a1a" stroke-width="0.08" stroke-linejoin="round" >0.007</text>
<text transform="translate(305.55,211.90) scale(1.130,1)" font-family='"Liberation Sans", sans-serif' font-size="4.70" font-weight="bold" fill="#1a1a1a" stroke="#1a1a1a" stroke-width="0.11" stroke-linejoin="round" >negative vs 1’ 20mg/Kg</text>
<text transform="translate(376.78,212.40) scale(0.773,1)" font-family='"Liberation Sans", sans-serif' font-size="7.05" font-weight="bold" fill="#1a1a1a" stroke="#1a1a1a" stroke-width="0.19" stroke-linejoin="round" >*</text>
<text transform="translate(389.08,212.00) scale(1.169,1)" font-family='"Liberation Sans", sans-serif' font-size="4.70" font-weight="bold" fill="#1a1a1a" stroke="#1a1a1a" stroke-width="0.09" stroke-linejoin="round" >0.004</text>
<text transform="translate(305.55,222.10) scale(1.130,1)" font-family='"Liberation Sans", sans-serif' font-size="4.70" font-weight="bold" fill="#1a1a1a" stroke="#1a1a1a" stroke-width="0.11" stroke-linejoin="round" >negative vs sorafinib</text>
<text transform="translate(376.78,222.60) scale(0.773,1)" font-family='"Liberation Sans", sans-serif' font-size="7.05" font-weight="bold" fill="#1a1a1a" stroke="#1a1a1a" stroke-width="0.19" stroke-linejoin="round" >*</text>
<text transform="translate(389.08,222.20) scale(1.181,1)" font-family='"Liberation Sans", sans-serif' font-size="4.70" font-weight="bold" fill="#1a1a1a" stroke="#1a1a1a" stroke-width="0.08" stroke-linejoin="round" >0.008</text>
<text transform="translate(305.71,233.28) scale(1.130,1)" font-family='"Liberation Sans", sans-serif' font-size="4.70" font-weight="bold" fill="#1a1a1a" stroke="#1a1a1a" stroke-width="0.11" stroke-linejoin="round" >sorafinib vs 1’ 100mg/Kg</text>
<text transform="translate(375.78,233.28) scale(1.044,1)" font-family='"Liberation Sans", sans-serif' font-size="4.70" font-weight="bold" fill="#1a1a1a" stroke="#1a1a1a" stroke-width="0.10" stroke-linejoin="round" >ns</text>
<text transform="translate(389.08,233.38) scale(1.186,1)" font-family='"Liberation Sans", sans-serif' font-size="4.70" font-weight="bold" fill="#1a1a1a" stroke="#1a1a1a" stroke-width="0.08" stroke-linejoin="round" >0.450</text>
<text transform="translate(305.71,243.45) scale(1.130,1)" font-family='"Liberation Sans", sans-serif' font-size="4.70" font-weight="bold" fill="#1a1a1a" stroke="#1a1a1a" stroke-width="0.11" stroke-linejoin="round" >sorafinib vs 1’ 50mg/Kg</text>
<text transform="translate(375.78,243.45) scale(1.044,1)" font-family='"Liberation Sans", sans-serif' font-size="4.70" font-weight="bold" fill="#1a1a1a" stroke="#1a1a1a" stroke-width="0.10" stroke-linejoin="round" >ns</text>
<text transform="translate(389.08,243.55) scale(1.184,1)" font-family='"Liberation Sans", sans-serif' font-size="4.70" font-weight="bold" fill="#1a1a1a" stroke="#1a1a1a" stroke-width="0.08" stroke-linejoin="round" >0.999</text>
<text transform="translate(305.71,253.62) scale(1.130,1)" font-family='"Liberation Sans", sans-serif' font-size="4.70" font-weight="bold" fill="#1a1a1a" stroke="#1a1a1a" stroke-width="0.11" stroke-linejoin="round" >sorafinib vs 1’ 20mg/Kg</text>
<text transform="translate(375.78,253.62) scale(1.044,1)" font-family='"Liberation Sans", sans-serif' font-size="4.70" font-weight="bold" fill="#1a1a1a" stroke="#1a1a1a" stroke-width="0.10" stroke-linejoin="round" >ns</text>
<text transform="translate(389.08,253.72) scale(1.184,1)" font-family='"Liberation Sans", sans-serif' font-size="4.70" font-weight="bold" fill="#1a1a1a" stroke="#1a1a1a" stroke-width="0.08" stroke-linejoin="round" >0.986</text>
<polyline points="316.97,306.00 341.54,299.00 366.11,297.30 390.68,295.90 415.25,286.80 439.82,279.50 464.39,278.00 488.96,278.00 513.53,268.80 538.10,267.10" fill="none" stroke="#a046b0" stroke-width="1.0" stroke-linejoin="round"/>
<path d="M314.57 306.00L316.97 303.90L319.37 306.00L316.97 308.10Z" fill="#a034ac"/>
<path d="M339.14 299.00L341.54 296.90L343.94 299.00L341.54 301.10Z" fill="#a034ac"/>
<path d="M363.71 297.30L366.11 295.20L368.51 297.30L366.11 299.40Z" fill="#a034ac"/>
<path d="M388.28 295.90L390.68 293.80L393.08 295.90L390.68 298.00Z" fill="#a034ac"/>
<path d="M412.85 286.80L415.25 284.70L417.65 286.80L415.25 288.90Z" fill="#a034ac"/>
<path d="M437.42 279.50L439.82 277.40L442.22 279.50L439.82 281.60Z" fill="#a034ac"/>
<path d="M461.99 278.00L464.39 275.90L466.79 278.00L464.39 280.10Z" fill="#a034ac"/>
<path d="M486.56 278.00L488.96 275.90L491.36 278.00L488.96 280.10Z" fill="#a034ac"/>
<path d="M511.13 268.80L513.53 266.70L515.93 268.80L513.53 270.90Z" fill="#a034ac"/>
<path d="M535.70 267.10L538.10 265.00L540.50 267.10L538.10 269.20Z" fill="#a034ac"/>
<polyline points="316.97,305.70 341.54,298.70 366.11,297.00 390.68,287.10 415.25,287.50 439.82,279.20 464.39,270.50 488.96,273.50 513.53,263.00 538.10,261.50" fill="none" stroke="#3a3f9e" stroke-width="1.0" stroke-linejoin="round"/>
<path d="M314.37 304.00L319.57 304.00L316.97 307.70Z" fill="#2f3fb0"/>
<path d="M338.94 297.00L344.14 297.00L341.54 300.70Z" fill="#2f3fb0"/>
<path d="M363.51 295.30L368.71 295.30L366.11 299.00Z" fill="#2f3fb0"/>
<path d="M388.08 285.40L393.28 285.40L390.68 289.10Z" fill="#2f3fb0"/>
<path d="M412.65 285.80L417.85 285.80L415.25 289.50Z" fill="#2f3fb0"/>
<path d="M437.22 277.50L442.42 277.50L439.82 281.20Z" fill="#2f3fb0"/>
<path d="M461.79 268.80L466.99 268.80L464.39 272.50Z" fill="#2f3fb0"/>
<path d="M486.36 271.80L491.56 271.80L488.96 275.50Z" fill="#2f3fb0"/>
<path d="M510.93 261.30L516.13 261.30L513.53 265.00Z" fill="#2f3fb0"/>
<path d="M535.50 259.80L540.70 259.80L538.10 263.50Z" fill="#2f3fb0"/>
<polyline points="316.97,308.50 341.54,301.40 366.11,300.00 390.68,294.70 415.25,292.00 439.82,283.50 464.39,274.20 488.96,274.30 513.53,254.40 538.10,253.10" fill="none" stroke="#38b48a" stroke-width="1.0" stroke-linejoin="round"/>
<path d="M314.37 310.20L319.57 310.20L316.97 306.50Z" fill="#22b07c"/>
<path d="M338.94 303.10L344.14 303.10L341.54 299.40Z" fill="#22b07c"/>
<path d="M363.51 301.70L368.71 301.70L366.11 298.00Z" fill="#22b07c"/>
<path d="M388.08 296.40L393.28 296.40L390.68 292.70Z" fill="#22b07c"/>
<path d="M412.65 293.70L417.85 293.70L415.25 290.00Z" fill="#22b07c"/>
<path d="M437.22 285.20L442.42 285.20L439.82 281.50Z" fill="#22b07c"/>
<path d="M461.79 275.90L466.99 275.90L464.39 272.20Z" fill="#22b07c"/>
<path d="M486.36 276.00L491.56 276.00L488.96 272.30Z" fill="#22b07c"/>
<path d="M510.93 256.10L516.13 256.10L513.53 252.40Z" fill="#22b07c"/>
<path d="M535.50 254.80L540.70 254.80L538.10 251.10Z" fill="#22b07c"/>
<polyline points="316.97,302.50 341.54,293.80 366.11,290.50 390.68,285.00 415.25,273.80 439.82,268.90 464.39,256.30 488.96,258.10 513.53,245.50 538.10,250.80" fill="none" stroke="#eca552" stroke-width="1.0" stroke-linejoin="round"/>
<rect x="314.62" y="300.55" width="4.70" height="3.90" fill="#f37e21"/>
<rect x="339.19" y="291.85" width="4.70" height="3.90" fill="#f37e21"/>
<rect x="363.76" y="288.55" width="4.70" height="3.90" fill="#f37e21"/>
<rect x="388.33" y="283.05" width="4.70" height="3.90" fill="#f37e21"/>
<rect x="412.90" y="271.85" width="4.70" height="3.90" fill="#f37e21"/>
<rect x="437.47" y="266.95" width="4.70" height="3.90" fill="#f37e21"/>
<rect x="462.04" y="254.35" width="4.70" height="3.90" fill="#f37e21"/>
<rect x="486.61" y="256.15" width="4.70" height="3.90" fill="#f37e21"/>
<rect x="511.18" y="243.55" width="4.70" height="3.90" fill="#f37e21"/>
<rect x="535.75" y="248.85" width="4.70" height="3.90" fill="#f37e21"/>
<polyline points="316.97,300.90 341.54,290.40 366.11,284.80 390.68,272.40 415.25,259.70 439.82,243.80 464.39,227.60 488.96,216.90 513.53,200.70 538.10,205.90" fill="none" stroke="#d85858" stroke-width="1.0" stroke-linejoin="round"/>
<ellipse cx="316.97" cy="300.90" rx="2.60" ry="2.05" fill="#ee3e40"/>
<ellipse cx="341.54" cy="290.40" rx="2.60" ry="2.05" fill="#ee3e40"/>
<ellipse cx="366.11" cy="284.80" rx="2.60" ry="2.05" fill="#ee3e40"/>
<ellipse cx="390.68" cy="272.40" rx="2.60" ry="2.05" fill="#ee3e40"/>
<ellipse cx="415.25" cy="259.70" rx="2.60" ry="2.05" fill="#ee3e40"/>
<ellipse cx="439.82" cy="243.80" rx="2.60" ry="2.05" fill="#ee3e40"/>
<ellipse cx="464.39" cy="227.60" rx="2.60" ry="2.05" fill="#ee3e40"/>
<ellipse cx="488.96" cy="216.90" rx="2.60" ry="2.05" fill="#ee3e40"/>
<ellipse cx="513.53" cy="200.70" rx="2.60" ry="2.05" fill="#ee3e40"/>
<ellipse cx="538.10" cy="205.90" rx="2.60" ry="2.05" fill="#ee3e40"/>
<path d="M579.2 24.50H596.9" stroke="#cc5a5a" stroke-width="0.85"/>
<ellipse cx="588.50" cy="24.50" rx="2.73" ry="2.15" fill="#ee3e40"/>
<text transform="translate(606.02,28.00) scale(1.346,1)" font-family='"Liberation Sans", sans-serif' font-size="9.90" font-weight="normal" fill="#1a1a1a" >negative</text>
<path d="M579.2 41.90H596.9" stroke="#e8bc7c" stroke-width="0.85"/>
<rect x="586.03" y="39.85" width="4.94" height="4.09" fill="#f37e21"/>
<text transform="translate(606.23,45.40) scale(1.420,1)" font-family='"Liberation Sans", sans-serif' font-size="9.90" font-weight="normal" fill="#1a1a1a" >1’ 100mg/kg</text>
<path d="M579.2 59.00H596.9" stroke="#4cb45a" stroke-width="0.85"/>
<path d="M585.77 60.78L591.23 60.78L588.50 56.90Z" fill="#22b03c"/>
<text transform="translate(606.24,62.50) scale(1.410,1)" font-family='"Liberation Sans", sans-serif' font-size="9.90" font-weight="normal" fill="#1a1a1a" >1’ 50mg/kg</text>
<path d="M579.2 76.50H596.9" stroke="#9a50aa" stroke-width="0.85"/>
<path d="M585.98 76.50L588.50 74.30L591.02 76.50L588.50 78.70Z" fill="#a034ac"/>
<text transform="translate(606.24,80.00) scale(1.410,1)" font-family='"Liberation Sans", sans-serif' font-size="9.90" font-weight="normal" fill="#1a1a1a" >1’ 20mg/kg</text>
<path d="M579.2 93.90H596.9" stroke="#5054a4" stroke-width="0.85"/>
<path d="M585.77 92.12L591.23 92.12L588.50 96.00Z" fill="#2f3fb0"/>
<text transform="translate(606.53,97.40) scale(1.329,1)" font-family='"Liberation Sans", sans-serif' font-size="9.90" font-weight="normal" fill="#1a1a1a" >sorafinib</text>
<path d="M575.4 195.70H592.7" stroke="#cc5a5a" stroke-width="0.85"/>
<ellipse cx="584.30" cy="195.70" rx="2.73" ry="2.15" fill="#ee3e40"/>
<text transform="translate(602.31,199.20) scale(1.349,1)" font-family='"Liberation Sans", sans-serif' font-size="9.90" font-weight="normal" fill="#1a1a1a" >negative</text>
<path d="M575.4 213.70H592.7" stroke="#e8bc7c" stroke-width="0.85"/>
<rect x="581.83" y="211.65" width="4.94" height="4.09" fill="#f37e21"/>
<text transform="translate(602.53,217.20) scale(1.416,1)" font-family='"Liberation Sans", sans-serif' font-size="9.90" font-weight="normal" fill="#1a1a1a" >1’ 100mg/kg</text>
<path d="M575.4 232.60H592.7" stroke="#40b890" stroke-width="0.85"/>
<path d="M581.57 234.38L587.03 234.38L584.30 230.50Z" fill="#22b07c"/>
<text transform="translate(602.53,236.10) scale(1.414,1)" font-family='"Liberation Sans", sans-serif' font-size="9.90" font-weight="normal" fill="#1a1a1a" >1’ 50mg/kg</text>
<path d="M575.4 249.90H592.7" stroke="#9a50aa" stroke-width="0.85"/>
<path d="M581.78 249.90L584.30 247.69L586.82 249.90L584.30 252.11Z" fill="#a034ac"/>
<text transform="translate(602.53,253.40) scale(1.414,1)" font-family='"Liberation Sans", sans-serif' font-size="9.90" font-weight="normal" fill="#1a1a1a" >1’ 20mg/kg</text>
<path d="M575.4 265.90H592.7" stroke="#5054a4" stroke-width="0.85"/>
<path d="M581.57 264.11L587.03 264.11L584.30 268.00Z" fill="#2f3fb0"/>
<text transform="translate(602.83,269.40) scale(1.329,1)" font-family='"Liberation Sans", sans-serif' font-size="9.90" font-weight="normal" fill="#1a1a1a" >sorafinib</text>
</g></svg></body></html>
